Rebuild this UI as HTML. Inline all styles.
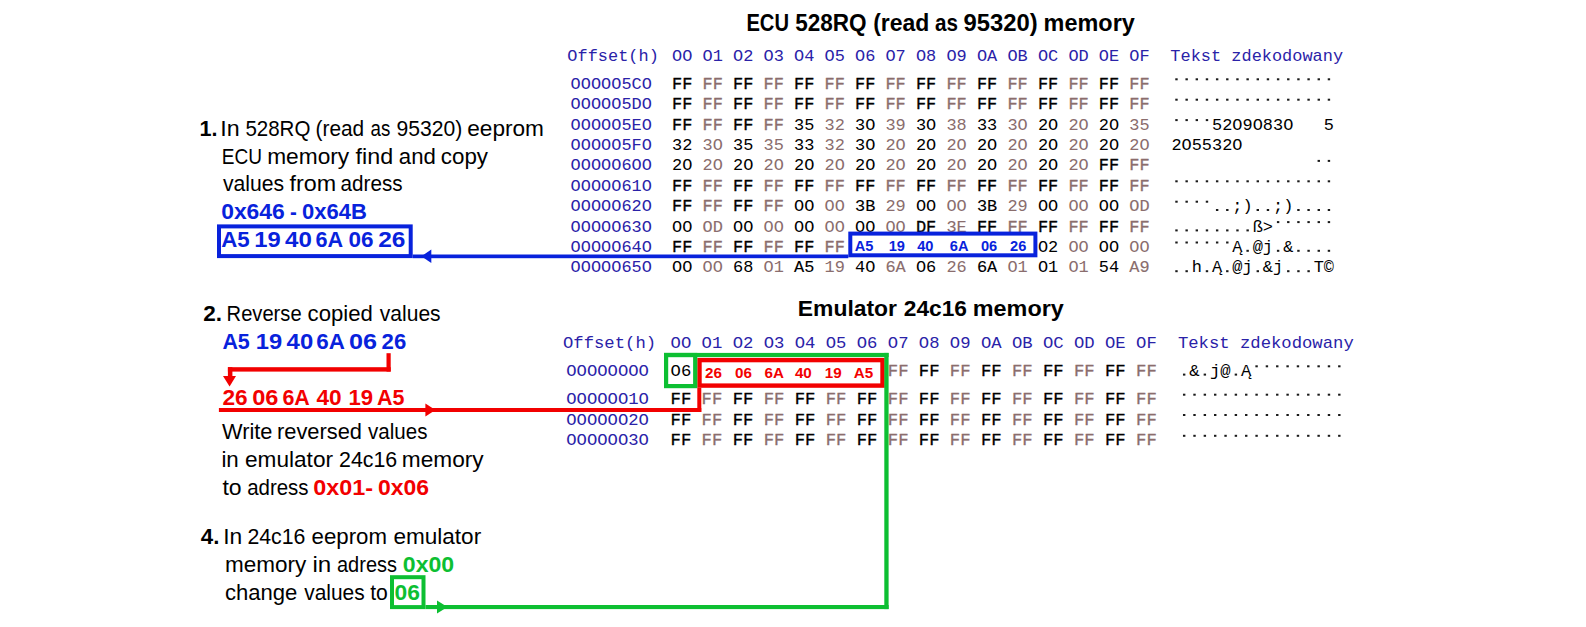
<!DOCTYPE html>
<html><head><meta charset="utf-8"><title>ECU memory</title>
<style>html,body{margin:0;padding:0;background:#fff;}body{width:1586px;height:627px;overflow:hidden;}svg{display:block;}</style>
</head><body>
<svg width="1586" height="627" viewBox="0 0 1586 627">
<rect width="1586" height="627" fill="#fff"/>
<text x="567.33" y="61.00" font-family="Liberation Mono" font-size="15.9" font-weight="normal" fill="#2a22a8" textLength="91.47" lengthAdjust="spacingAndGlyphs">Offset(h)</text>
<text x="672.03" y="61.00" font-family="Liberation Mono" font-size="15.9" font-weight="normal" fill="#2a22a8" textLength="20.33" lengthAdjust="spacingAndGlyphs">OO</text>
<text x="702.52" y="61.00" font-family="Liberation Mono" font-size="15.9" font-weight="normal" fill="#2a22a8" textLength="20.33" lengthAdjust="spacingAndGlyphs">O1</text>
<text x="733.01" y="61.00" font-family="Liberation Mono" font-size="15.9" font-weight="normal" fill="#2a22a8" textLength="20.33" lengthAdjust="spacingAndGlyphs">O2</text>
<text x="763.50" y="61.00" font-family="Liberation Mono" font-size="15.9" font-weight="normal" fill="#2a22a8" textLength="20.33" lengthAdjust="spacingAndGlyphs">O3</text>
<text x="793.99" y="61.00" font-family="Liberation Mono" font-size="15.9" font-weight="normal" fill="#2a22a8" textLength="20.33" lengthAdjust="spacingAndGlyphs">O4</text>
<text x="824.48" y="61.00" font-family="Liberation Mono" font-size="15.9" font-weight="normal" fill="#2a22a8" textLength="20.33" lengthAdjust="spacingAndGlyphs">O5</text>
<text x="854.97" y="61.00" font-family="Liberation Mono" font-size="15.9" font-weight="normal" fill="#2a22a8" textLength="20.33" lengthAdjust="spacingAndGlyphs">O6</text>
<text x="885.46" y="61.00" font-family="Liberation Mono" font-size="15.9" font-weight="normal" fill="#2a22a8" textLength="20.33" lengthAdjust="spacingAndGlyphs">O7</text>
<text x="915.95" y="61.00" font-family="Liberation Mono" font-size="15.9" font-weight="normal" fill="#2a22a8" textLength="20.33" lengthAdjust="spacingAndGlyphs">O8</text>
<text x="946.44" y="61.00" font-family="Liberation Mono" font-size="15.9" font-weight="normal" fill="#2a22a8" textLength="20.33" lengthAdjust="spacingAndGlyphs">O9</text>
<text x="976.93" y="61.00" font-family="Liberation Mono" font-size="15.9" font-weight="normal" fill="#2a22a8" textLength="20.33" lengthAdjust="spacingAndGlyphs">OA</text>
<text x="1007.42" y="61.00" font-family="Liberation Mono" font-size="15.9" font-weight="normal" fill="#2a22a8" textLength="20.33" lengthAdjust="spacingAndGlyphs">OB</text>
<text x="1037.91" y="61.00" font-family="Liberation Mono" font-size="15.9" font-weight="normal" fill="#2a22a8" textLength="20.33" lengthAdjust="spacingAndGlyphs">OC</text>
<text x="1068.40" y="61.00" font-family="Liberation Mono" font-size="15.9" font-weight="normal" fill="#2a22a8" textLength="20.33" lengthAdjust="spacingAndGlyphs">OD</text>
<text x="1098.89" y="61.00" font-family="Liberation Mono" font-size="15.9" font-weight="normal" fill="#2a22a8" textLength="20.33" lengthAdjust="spacingAndGlyphs">OE</text>
<text x="1129.38" y="61.00" font-family="Liberation Mono" font-size="15.9" font-weight="normal" fill="#2a22a8" textLength="20.33" lengthAdjust="spacingAndGlyphs">OF</text>
<text x="1170.33" y="61.00" font-family="Liberation Mono" font-size="15.9" font-weight="normal" fill="#2a22a8" textLength="172.78" lengthAdjust="spacingAndGlyphs">Tekst zdekodowany</text>
<text x="570.63" y="88.80" font-family="Liberation Mono" font-size="15.9" font-weight="normal" fill="#2a22a8" textLength="81.31" lengthAdjust="spacingAndGlyphs">OOOOO5CO</text>
<text x="672.03" y="88.80" font-family="Liberation Mono" font-size="15.9" font-weight="normal" fill="#000" textLength="20.33" lengthAdjust="spacingAndGlyphs" stroke="#000" stroke-width="0.3">FF</text>
<text x="702.52" y="88.80" font-family="Liberation Mono" font-size="15.9" font-weight="normal" fill="#8a6d6d" textLength="20.33" lengthAdjust="spacingAndGlyphs" stroke="#8a6d6d" stroke-width="0.3">FF</text>
<text x="733.01" y="88.80" font-family="Liberation Mono" font-size="15.9" font-weight="normal" fill="#000" textLength="20.33" lengthAdjust="spacingAndGlyphs" stroke="#000" stroke-width="0.3">FF</text>
<text x="763.50" y="88.80" font-family="Liberation Mono" font-size="15.9" font-weight="normal" fill="#8a6d6d" textLength="20.33" lengthAdjust="spacingAndGlyphs" stroke="#8a6d6d" stroke-width="0.3">FF</text>
<text x="793.99" y="88.80" font-family="Liberation Mono" font-size="15.9" font-weight="normal" fill="#000" textLength="20.33" lengthAdjust="spacingAndGlyphs" stroke="#000" stroke-width="0.3">FF</text>
<text x="824.48" y="88.80" font-family="Liberation Mono" font-size="15.9" font-weight="normal" fill="#8a6d6d" textLength="20.33" lengthAdjust="spacingAndGlyphs" stroke="#8a6d6d" stroke-width="0.3">FF</text>
<text x="854.97" y="88.80" font-family="Liberation Mono" font-size="15.9" font-weight="normal" fill="#000" textLength="20.33" lengthAdjust="spacingAndGlyphs" stroke="#000" stroke-width="0.3">FF</text>
<text x="885.46" y="88.80" font-family="Liberation Mono" font-size="15.9" font-weight="normal" fill="#8a6d6d" textLength="20.33" lengthAdjust="spacingAndGlyphs" stroke="#8a6d6d" stroke-width="0.3">FF</text>
<text x="915.95" y="88.80" font-family="Liberation Mono" font-size="15.9" font-weight="normal" fill="#000" textLength="20.33" lengthAdjust="spacingAndGlyphs" stroke="#000" stroke-width="0.3">FF</text>
<text x="946.44" y="88.80" font-family="Liberation Mono" font-size="15.9" font-weight="normal" fill="#8a6d6d" textLength="20.33" lengthAdjust="spacingAndGlyphs" stroke="#8a6d6d" stroke-width="0.3">FF</text>
<text x="976.93" y="88.80" font-family="Liberation Mono" font-size="15.9" font-weight="normal" fill="#000" textLength="20.33" lengthAdjust="spacingAndGlyphs" stroke="#000" stroke-width="0.3">FF</text>
<text x="1007.42" y="88.80" font-family="Liberation Mono" font-size="15.9" font-weight="normal" fill="#8a6d6d" textLength="20.33" lengthAdjust="spacingAndGlyphs" stroke="#8a6d6d" stroke-width="0.3">FF</text>
<text x="1037.91" y="88.80" font-family="Liberation Mono" font-size="15.9" font-weight="normal" fill="#000" textLength="20.33" lengthAdjust="spacingAndGlyphs" stroke="#000" stroke-width="0.3">FF</text>
<text x="1068.40" y="88.80" font-family="Liberation Mono" font-size="15.9" font-weight="normal" fill="#8a6d6d" textLength="20.33" lengthAdjust="spacingAndGlyphs" stroke="#8a6d6d" stroke-width="0.3">FF</text>
<text x="1098.89" y="88.80" font-family="Liberation Mono" font-size="15.9" font-weight="normal" fill="#000" textLength="20.33" lengthAdjust="spacingAndGlyphs" stroke="#000" stroke-width="0.3">FF</text>
<text x="1129.38" y="88.80" font-family="Liberation Mono" font-size="15.9" font-weight="normal" fill="#8a6d6d" textLength="20.33" lengthAdjust="spacingAndGlyphs" stroke="#8a6d6d" stroke-width="0.3">FF</text>
<rect x="1175.28" y="78.30" width="2.40" height="2.00" fill="#1a1a1a"/>
<rect x="1185.45" y="78.30" width="2.40" height="2.00" fill="#1a1a1a"/>
<rect x="1195.61" y="78.30" width="2.40" height="2.00" fill="#1a1a1a"/>
<rect x="1205.77" y="78.30" width="2.40" height="2.00" fill="#1a1a1a"/>
<rect x="1215.94" y="78.30" width="2.40" height="2.00" fill="#1a1a1a"/>
<rect x="1226.10" y="78.30" width="2.40" height="2.00" fill="#1a1a1a"/>
<rect x="1236.26" y="78.30" width="2.40" height="2.00" fill="#1a1a1a"/>
<rect x="1246.43" y="78.30" width="2.40" height="2.00" fill="#1a1a1a"/>
<rect x="1256.59" y="78.30" width="2.40" height="2.00" fill="#1a1a1a"/>
<rect x="1266.75" y="78.30" width="2.40" height="2.00" fill="#1a1a1a"/>
<rect x="1276.91" y="78.30" width="2.40" height="2.00" fill="#1a1a1a"/>
<rect x="1287.08" y="78.30" width="2.40" height="2.00" fill="#1a1a1a"/>
<rect x="1297.24" y="78.30" width="2.40" height="2.00" fill="#1a1a1a"/>
<rect x="1307.40" y="78.30" width="2.40" height="2.00" fill="#1a1a1a"/>
<rect x="1317.57" y="78.30" width="2.40" height="2.00" fill="#1a1a1a"/>
<rect x="1327.73" y="78.30" width="2.40" height="2.00" fill="#1a1a1a"/>
<text x="570.63" y="109.20" font-family="Liberation Mono" font-size="15.9" font-weight="normal" fill="#2a22a8" textLength="81.31" lengthAdjust="spacingAndGlyphs">OOOOO5DO</text>
<text x="672.03" y="109.20" font-family="Liberation Mono" font-size="15.9" font-weight="normal" fill="#000" textLength="20.33" lengthAdjust="spacingAndGlyphs" stroke="#000" stroke-width="0.3">FF</text>
<text x="702.52" y="109.20" font-family="Liberation Mono" font-size="15.9" font-weight="normal" fill="#8a6d6d" textLength="20.33" lengthAdjust="spacingAndGlyphs" stroke="#8a6d6d" stroke-width="0.3">FF</text>
<text x="733.01" y="109.20" font-family="Liberation Mono" font-size="15.9" font-weight="normal" fill="#000" textLength="20.33" lengthAdjust="spacingAndGlyphs" stroke="#000" stroke-width="0.3">FF</text>
<text x="763.50" y="109.20" font-family="Liberation Mono" font-size="15.9" font-weight="normal" fill="#8a6d6d" textLength="20.33" lengthAdjust="spacingAndGlyphs" stroke="#8a6d6d" stroke-width="0.3">FF</text>
<text x="793.99" y="109.20" font-family="Liberation Mono" font-size="15.9" font-weight="normal" fill="#000" textLength="20.33" lengthAdjust="spacingAndGlyphs" stroke="#000" stroke-width="0.3">FF</text>
<text x="824.48" y="109.20" font-family="Liberation Mono" font-size="15.9" font-weight="normal" fill="#8a6d6d" textLength="20.33" lengthAdjust="spacingAndGlyphs" stroke="#8a6d6d" stroke-width="0.3">FF</text>
<text x="854.97" y="109.20" font-family="Liberation Mono" font-size="15.9" font-weight="normal" fill="#000" textLength="20.33" lengthAdjust="spacingAndGlyphs" stroke="#000" stroke-width="0.3">FF</text>
<text x="885.46" y="109.20" font-family="Liberation Mono" font-size="15.9" font-weight="normal" fill="#8a6d6d" textLength="20.33" lengthAdjust="spacingAndGlyphs" stroke="#8a6d6d" stroke-width="0.3">FF</text>
<text x="915.95" y="109.20" font-family="Liberation Mono" font-size="15.9" font-weight="normal" fill="#000" textLength="20.33" lengthAdjust="spacingAndGlyphs" stroke="#000" stroke-width="0.3">FF</text>
<text x="946.44" y="109.20" font-family="Liberation Mono" font-size="15.9" font-weight="normal" fill="#8a6d6d" textLength="20.33" lengthAdjust="spacingAndGlyphs" stroke="#8a6d6d" stroke-width="0.3">FF</text>
<text x="976.93" y="109.20" font-family="Liberation Mono" font-size="15.9" font-weight="normal" fill="#000" textLength="20.33" lengthAdjust="spacingAndGlyphs" stroke="#000" stroke-width="0.3">FF</text>
<text x="1007.42" y="109.20" font-family="Liberation Mono" font-size="15.9" font-weight="normal" fill="#8a6d6d" textLength="20.33" lengthAdjust="spacingAndGlyphs" stroke="#8a6d6d" stroke-width="0.3">FF</text>
<text x="1037.91" y="109.20" font-family="Liberation Mono" font-size="15.9" font-weight="normal" fill="#000" textLength="20.33" lengthAdjust="spacingAndGlyphs" stroke="#000" stroke-width="0.3">FF</text>
<text x="1068.40" y="109.20" font-family="Liberation Mono" font-size="15.9" font-weight="normal" fill="#8a6d6d" textLength="20.33" lengthAdjust="spacingAndGlyphs" stroke="#8a6d6d" stroke-width="0.3">FF</text>
<text x="1098.89" y="109.20" font-family="Liberation Mono" font-size="15.9" font-weight="normal" fill="#000" textLength="20.33" lengthAdjust="spacingAndGlyphs" stroke="#000" stroke-width="0.3">FF</text>
<text x="1129.38" y="109.20" font-family="Liberation Mono" font-size="15.9" font-weight="normal" fill="#8a6d6d" textLength="20.33" lengthAdjust="spacingAndGlyphs" stroke="#8a6d6d" stroke-width="0.3">FF</text>
<rect x="1175.28" y="98.70" width="2.40" height="2.00" fill="#1a1a1a"/>
<rect x="1185.45" y="98.70" width="2.40" height="2.00" fill="#1a1a1a"/>
<rect x="1195.61" y="98.70" width="2.40" height="2.00" fill="#1a1a1a"/>
<rect x="1205.77" y="98.70" width="2.40" height="2.00" fill="#1a1a1a"/>
<rect x="1215.94" y="98.70" width="2.40" height="2.00" fill="#1a1a1a"/>
<rect x="1226.10" y="98.70" width="2.40" height="2.00" fill="#1a1a1a"/>
<rect x="1236.26" y="98.70" width="2.40" height="2.00" fill="#1a1a1a"/>
<rect x="1246.43" y="98.70" width="2.40" height="2.00" fill="#1a1a1a"/>
<rect x="1256.59" y="98.70" width="2.40" height="2.00" fill="#1a1a1a"/>
<rect x="1266.75" y="98.70" width="2.40" height="2.00" fill="#1a1a1a"/>
<rect x="1276.91" y="98.70" width="2.40" height="2.00" fill="#1a1a1a"/>
<rect x="1287.08" y="98.70" width="2.40" height="2.00" fill="#1a1a1a"/>
<rect x="1297.24" y="98.70" width="2.40" height="2.00" fill="#1a1a1a"/>
<rect x="1307.40" y="98.70" width="2.40" height="2.00" fill="#1a1a1a"/>
<rect x="1317.57" y="98.70" width="2.40" height="2.00" fill="#1a1a1a"/>
<rect x="1327.73" y="98.70" width="2.40" height="2.00" fill="#1a1a1a"/>
<text x="570.63" y="129.60" font-family="Liberation Mono" font-size="15.9" font-weight="normal" fill="#2a22a8" textLength="81.31" lengthAdjust="spacingAndGlyphs">OOOOO5EO</text>
<text x="672.03" y="129.60" font-family="Liberation Mono" font-size="15.9" font-weight="normal" fill="#000" textLength="20.33" lengthAdjust="spacingAndGlyphs" stroke="#000" stroke-width="0.3">FF</text>
<text x="702.52" y="129.60" font-family="Liberation Mono" font-size="15.9" font-weight="normal" fill="#8a6d6d" textLength="20.33" lengthAdjust="spacingAndGlyphs" stroke="#8a6d6d" stroke-width="0.3">FF</text>
<text x="733.01" y="129.60" font-family="Liberation Mono" font-size="15.9" font-weight="normal" fill="#000" textLength="20.33" lengthAdjust="spacingAndGlyphs" stroke="#000" stroke-width="0.3">FF</text>
<text x="763.50" y="129.60" font-family="Liberation Mono" font-size="15.9" font-weight="normal" fill="#8a6d6d" textLength="20.33" lengthAdjust="spacingAndGlyphs" stroke="#8a6d6d" stroke-width="0.3">FF</text>
<text x="793.99" y="129.60" font-family="Liberation Mono" font-size="15.9" font-weight="normal" fill="#000" textLength="20.33" lengthAdjust="spacingAndGlyphs">35</text>
<text x="824.48" y="129.60" font-family="Liberation Mono" font-size="15.9" font-weight="normal" fill="#8a6d6d" textLength="20.33" lengthAdjust="spacingAndGlyphs">32</text>
<text x="854.97" y="129.60" font-family="Liberation Mono" font-size="15.9" font-weight="normal" fill="#000" textLength="20.33" lengthAdjust="spacingAndGlyphs">3O</text>
<text x="885.46" y="129.60" font-family="Liberation Mono" font-size="15.9" font-weight="normal" fill="#8a6d6d" textLength="20.33" lengthAdjust="spacingAndGlyphs">39</text>
<text x="915.95" y="129.60" font-family="Liberation Mono" font-size="15.9" font-weight="normal" fill="#000" textLength="20.33" lengthAdjust="spacingAndGlyphs">3O</text>
<text x="946.44" y="129.60" font-family="Liberation Mono" font-size="15.9" font-weight="normal" fill="#8a6d6d" textLength="20.33" lengthAdjust="spacingAndGlyphs">38</text>
<text x="976.93" y="129.60" font-family="Liberation Mono" font-size="15.9" font-weight="normal" fill="#000" textLength="20.33" lengthAdjust="spacingAndGlyphs">33</text>
<text x="1007.42" y="129.60" font-family="Liberation Mono" font-size="15.9" font-weight="normal" fill="#8a6d6d" textLength="20.33" lengthAdjust="spacingAndGlyphs">3O</text>
<text x="1037.91" y="129.60" font-family="Liberation Mono" font-size="15.9" font-weight="normal" fill="#000" textLength="20.33" lengthAdjust="spacingAndGlyphs">2O</text>
<text x="1068.40" y="129.60" font-family="Liberation Mono" font-size="15.9" font-weight="normal" fill="#8a6d6d" textLength="20.33" lengthAdjust="spacingAndGlyphs">2O</text>
<text x="1098.89" y="129.60" font-family="Liberation Mono" font-size="15.9" font-weight="normal" fill="#000" textLength="20.33" lengthAdjust="spacingAndGlyphs">2O</text>
<text x="1129.38" y="129.60" font-family="Liberation Mono" font-size="15.9" font-weight="normal" fill="#8a6d6d" textLength="20.33" lengthAdjust="spacingAndGlyphs">35</text>
<rect x="1175.28" y="119.10" width="2.40" height="2.00" fill="#1a1a1a"/>
<rect x="1185.45" y="119.10" width="2.40" height="2.00" fill="#1a1a1a"/>
<rect x="1195.61" y="119.10" width="2.40" height="2.00" fill="#1a1a1a"/>
<rect x="1205.77" y="119.10" width="2.40" height="2.00" fill="#1a1a1a"/>
<text x="1212.05" y="129.60" font-family="Liberation Mono" font-size="15.9" font-weight="normal" fill="#000" textLength="10.16" lengthAdjust="spacingAndGlyphs">5</text>
<text x="1222.22" y="129.60" font-family="Liberation Mono" font-size="15.9" font-weight="normal" fill="#000" textLength="10.16" lengthAdjust="spacingAndGlyphs">2</text>
<text x="1232.38" y="129.60" font-family="Liberation Mono" font-size="15.9" font-weight="normal" fill="#000" textLength="10.16" lengthAdjust="spacingAndGlyphs">O</text>
<text x="1242.54" y="129.60" font-family="Liberation Mono" font-size="15.9" font-weight="normal" fill="#000" textLength="10.16" lengthAdjust="spacingAndGlyphs">9</text>
<text x="1252.71" y="129.60" font-family="Liberation Mono" font-size="15.9" font-weight="normal" fill="#000" textLength="10.16" lengthAdjust="spacingAndGlyphs">O</text>
<text x="1262.87" y="129.60" font-family="Liberation Mono" font-size="15.9" font-weight="normal" fill="#000" textLength="10.16" lengthAdjust="spacingAndGlyphs">8</text>
<text x="1273.03" y="129.60" font-family="Liberation Mono" font-size="15.9" font-weight="normal" fill="#000" textLength="10.16" lengthAdjust="spacingAndGlyphs">3</text>
<text x="1283.20" y="129.60" font-family="Liberation Mono" font-size="15.9" font-weight="normal" fill="#000" textLength="10.16" lengthAdjust="spacingAndGlyphs">O</text>
<text x="1323.85" y="129.60" font-family="Liberation Mono" font-size="15.9" font-weight="normal" fill="#000" textLength="10.16" lengthAdjust="spacingAndGlyphs">5</text>
<text x="570.63" y="150.00" font-family="Liberation Mono" font-size="15.9" font-weight="normal" fill="#2a22a8" textLength="81.31" lengthAdjust="spacingAndGlyphs">OOOOO5FO</text>
<text x="672.03" y="150.00" font-family="Liberation Mono" font-size="15.9" font-weight="normal" fill="#000" textLength="20.33" lengthAdjust="spacingAndGlyphs">32</text>
<text x="702.52" y="150.00" font-family="Liberation Mono" font-size="15.9" font-weight="normal" fill="#8a6d6d" textLength="20.33" lengthAdjust="spacingAndGlyphs">3O</text>
<text x="733.01" y="150.00" font-family="Liberation Mono" font-size="15.9" font-weight="normal" fill="#000" textLength="20.33" lengthAdjust="spacingAndGlyphs">35</text>
<text x="763.50" y="150.00" font-family="Liberation Mono" font-size="15.9" font-weight="normal" fill="#8a6d6d" textLength="20.33" lengthAdjust="spacingAndGlyphs">35</text>
<text x="793.99" y="150.00" font-family="Liberation Mono" font-size="15.9" font-weight="normal" fill="#000" textLength="20.33" lengthAdjust="spacingAndGlyphs">33</text>
<text x="824.48" y="150.00" font-family="Liberation Mono" font-size="15.9" font-weight="normal" fill="#8a6d6d" textLength="20.33" lengthAdjust="spacingAndGlyphs">32</text>
<text x="854.97" y="150.00" font-family="Liberation Mono" font-size="15.9" font-weight="normal" fill="#000" textLength="20.33" lengthAdjust="spacingAndGlyphs">3O</text>
<text x="885.46" y="150.00" font-family="Liberation Mono" font-size="15.9" font-weight="normal" fill="#8a6d6d" textLength="20.33" lengthAdjust="spacingAndGlyphs">2O</text>
<text x="915.95" y="150.00" font-family="Liberation Mono" font-size="15.9" font-weight="normal" fill="#000" textLength="20.33" lengthAdjust="spacingAndGlyphs">2O</text>
<text x="946.44" y="150.00" font-family="Liberation Mono" font-size="15.9" font-weight="normal" fill="#8a6d6d" textLength="20.33" lengthAdjust="spacingAndGlyphs">2O</text>
<text x="976.93" y="150.00" font-family="Liberation Mono" font-size="15.9" font-weight="normal" fill="#000" textLength="20.33" lengthAdjust="spacingAndGlyphs">2O</text>
<text x="1007.42" y="150.00" font-family="Liberation Mono" font-size="15.9" font-weight="normal" fill="#8a6d6d" textLength="20.33" lengthAdjust="spacingAndGlyphs">2O</text>
<text x="1037.91" y="150.00" font-family="Liberation Mono" font-size="15.9" font-weight="normal" fill="#000" textLength="20.33" lengthAdjust="spacingAndGlyphs">2O</text>
<text x="1068.40" y="150.00" font-family="Liberation Mono" font-size="15.9" font-weight="normal" fill="#8a6d6d" textLength="20.33" lengthAdjust="spacingAndGlyphs">2O</text>
<text x="1098.89" y="150.00" font-family="Liberation Mono" font-size="15.9" font-weight="normal" fill="#000" textLength="20.33" lengthAdjust="spacingAndGlyphs">2O</text>
<text x="1129.38" y="150.00" font-family="Liberation Mono" font-size="15.9" font-weight="normal" fill="#8a6d6d" textLength="20.33" lengthAdjust="spacingAndGlyphs">2O</text>
<text x="1171.40" y="150.00" font-family="Liberation Mono" font-size="15.9" font-weight="normal" fill="#000" textLength="10.16" lengthAdjust="spacingAndGlyphs">2</text>
<text x="1181.56" y="150.00" font-family="Liberation Mono" font-size="15.9" font-weight="normal" fill="#000" textLength="10.16" lengthAdjust="spacingAndGlyphs">O</text>
<text x="1191.73" y="150.00" font-family="Liberation Mono" font-size="15.9" font-weight="normal" fill="#000" textLength="10.16" lengthAdjust="spacingAndGlyphs">5</text>
<text x="1201.89" y="150.00" font-family="Liberation Mono" font-size="15.9" font-weight="normal" fill="#000" textLength="10.16" lengthAdjust="spacingAndGlyphs">5</text>
<text x="1212.05" y="150.00" font-family="Liberation Mono" font-size="15.9" font-weight="normal" fill="#000" textLength="10.16" lengthAdjust="spacingAndGlyphs">3</text>
<text x="1222.22" y="150.00" font-family="Liberation Mono" font-size="15.9" font-weight="normal" fill="#000" textLength="10.16" lengthAdjust="spacingAndGlyphs">2</text>
<text x="1232.38" y="150.00" font-family="Liberation Mono" font-size="15.9" font-weight="normal" fill="#000" textLength="10.16" lengthAdjust="spacingAndGlyphs">O</text>
<text x="570.63" y="170.40" font-family="Liberation Mono" font-size="15.9" font-weight="normal" fill="#2a22a8" textLength="81.31" lengthAdjust="spacingAndGlyphs">OOOOO6OO</text>
<text x="672.03" y="170.40" font-family="Liberation Mono" font-size="15.9" font-weight="normal" fill="#000" textLength="20.33" lengthAdjust="spacingAndGlyphs">2O</text>
<text x="702.52" y="170.40" font-family="Liberation Mono" font-size="15.9" font-weight="normal" fill="#8a6d6d" textLength="20.33" lengthAdjust="spacingAndGlyphs">2O</text>
<text x="733.01" y="170.40" font-family="Liberation Mono" font-size="15.9" font-weight="normal" fill="#000" textLength="20.33" lengthAdjust="spacingAndGlyphs">2O</text>
<text x="763.50" y="170.40" font-family="Liberation Mono" font-size="15.9" font-weight="normal" fill="#8a6d6d" textLength="20.33" lengthAdjust="spacingAndGlyphs">2O</text>
<text x="793.99" y="170.40" font-family="Liberation Mono" font-size="15.9" font-weight="normal" fill="#000" textLength="20.33" lengthAdjust="spacingAndGlyphs">2O</text>
<text x="824.48" y="170.40" font-family="Liberation Mono" font-size="15.9" font-weight="normal" fill="#8a6d6d" textLength="20.33" lengthAdjust="spacingAndGlyphs">2O</text>
<text x="854.97" y="170.40" font-family="Liberation Mono" font-size="15.9" font-weight="normal" fill="#000" textLength="20.33" lengthAdjust="spacingAndGlyphs">2O</text>
<text x="885.46" y="170.40" font-family="Liberation Mono" font-size="15.9" font-weight="normal" fill="#8a6d6d" textLength="20.33" lengthAdjust="spacingAndGlyphs">2O</text>
<text x="915.95" y="170.40" font-family="Liberation Mono" font-size="15.9" font-weight="normal" fill="#000" textLength="20.33" lengthAdjust="spacingAndGlyphs">2O</text>
<text x="946.44" y="170.40" font-family="Liberation Mono" font-size="15.9" font-weight="normal" fill="#8a6d6d" textLength="20.33" lengthAdjust="spacingAndGlyphs">2O</text>
<text x="976.93" y="170.40" font-family="Liberation Mono" font-size="15.9" font-weight="normal" fill="#000" textLength="20.33" lengthAdjust="spacingAndGlyphs">2O</text>
<text x="1007.42" y="170.40" font-family="Liberation Mono" font-size="15.9" font-weight="normal" fill="#8a6d6d" textLength="20.33" lengthAdjust="spacingAndGlyphs">2O</text>
<text x="1037.91" y="170.40" font-family="Liberation Mono" font-size="15.9" font-weight="normal" fill="#000" textLength="20.33" lengthAdjust="spacingAndGlyphs">2O</text>
<text x="1068.40" y="170.40" font-family="Liberation Mono" font-size="15.9" font-weight="normal" fill="#8a6d6d" textLength="20.33" lengthAdjust="spacingAndGlyphs">2O</text>
<text x="1098.89" y="170.40" font-family="Liberation Mono" font-size="15.9" font-weight="normal" fill="#000" textLength="20.33" lengthAdjust="spacingAndGlyphs" stroke="#000" stroke-width="0.3">FF</text>
<text x="1129.38" y="170.40" font-family="Liberation Mono" font-size="15.9" font-weight="normal" fill="#8a6d6d" textLength="20.33" lengthAdjust="spacingAndGlyphs" stroke="#8a6d6d" stroke-width="0.3">FF</text>
<rect x="1317.57" y="159.90" width="2.40" height="2.00" fill="#1a1a1a"/>
<rect x="1327.73" y="159.90" width="2.40" height="2.00" fill="#1a1a1a"/>
<text x="570.63" y="190.80" font-family="Liberation Mono" font-size="15.9" font-weight="normal" fill="#2a22a8" textLength="81.31" lengthAdjust="spacingAndGlyphs">OOOOO61O</text>
<text x="672.03" y="190.80" font-family="Liberation Mono" font-size="15.9" font-weight="normal" fill="#000" textLength="20.33" lengthAdjust="spacingAndGlyphs" stroke="#000" stroke-width="0.3">FF</text>
<text x="702.52" y="190.80" font-family="Liberation Mono" font-size="15.9" font-weight="normal" fill="#8a6d6d" textLength="20.33" lengthAdjust="spacingAndGlyphs" stroke="#8a6d6d" stroke-width="0.3">FF</text>
<text x="733.01" y="190.80" font-family="Liberation Mono" font-size="15.9" font-weight="normal" fill="#000" textLength="20.33" lengthAdjust="spacingAndGlyphs" stroke="#000" stroke-width="0.3">FF</text>
<text x="763.50" y="190.80" font-family="Liberation Mono" font-size="15.9" font-weight="normal" fill="#8a6d6d" textLength="20.33" lengthAdjust="spacingAndGlyphs" stroke="#8a6d6d" stroke-width="0.3">FF</text>
<text x="793.99" y="190.80" font-family="Liberation Mono" font-size="15.9" font-weight="normal" fill="#000" textLength="20.33" lengthAdjust="spacingAndGlyphs" stroke="#000" stroke-width="0.3">FF</text>
<text x="824.48" y="190.80" font-family="Liberation Mono" font-size="15.9" font-weight="normal" fill="#8a6d6d" textLength="20.33" lengthAdjust="spacingAndGlyphs" stroke="#8a6d6d" stroke-width="0.3">FF</text>
<text x="854.97" y="190.80" font-family="Liberation Mono" font-size="15.9" font-weight="normal" fill="#000" textLength="20.33" lengthAdjust="spacingAndGlyphs" stroke="#000" stroke-width="0.3">FF</text>
<text x="885.46" y="190.80" font-family="Liberation Mono" font-size="15.9" font-weight="normal" fill="#8a6d6d" textLength="20.33" lengthAdjust="spacingAndGlyphs" stroke="#8a6d6d" stroke-width="0.3">FF</text>
<text x="915.95" y="190.80" font-family="Liberation Mono" font-size="15.9" font-weight="normal" fill="#000" textLength="20.33" lengthAdjust="spacingAndGlyphs" stroke="#000" stroke-width="0.3">FF</text>
<text x="946.44" y="190.80" font-family="Liberation Mono" font-size="15.9" font-weight="normal" fill="#8a6d6d" textLength="20.33" lengthAdjust="spacingAndGlyphs" stroke="#8a6d6d" stroke-width="0.3">FF</text>
<text x="976.93" y="190.80" font-family="Liberation Mono" font-size="15.9" font-weight="normal" fill="#000" textLength="20.33" lengthAdjust="spacingAndGlyphs" stroke="#000" stroke-width="0.3">FF</text>
<text x="1007.42" y="190.80" font-family="Liberation Mono" font-size="15.9" font-weight="normal" fill="#8a6d6d" textLength="20.33" lengthAdjust="spacingAndGlyphs" stroke="#8a6d6d" stroke-width="0.3">FF</text>
<text x="1037.91" y="190.80" font-family="Liberation Mono" font-size="15.9" font-weight="normal" fill="#000" textLength="20.33" lengthAdjust="spacingAndGlyphs" stroke="#000" stroke-width="0.3">FF</text>
<text x="1068.40" y="190.80" font-family="Liberation Mono" font-size="15.9" font-weight="normal" fill="#8a6d6d" textLength="20.33" lengthAdjust="spacingAndGlyphs" stroke="#8a6d6d" stroke-width="0.3">FF</text>
<text x="1098.89" y="190.80" font-family="Liberation Mono" font-size="15.9" font-weight="normal" fill="#000" textLength="20.33" lengthAdjust="spacingAndGlyphs" stroke="#000" stroke-width="0.3">FF</text>
<text x="1129.38" y="190.80" font-family="Liberation Mono" font-size="15.9" font-weight="normal" fill="#8a6d6d" textLength="20.33" lengthAdjust="spacingAndGlyphs" stroke="#8a6d6d" stroke-width="0.3">FF</text>
<rect x="1175.28" y="180.30" width="2.40" height="2.00" fill="#1a1a1a"/>
<rect x="1185.45" y="180.30" width="2.40" height="2.00" fill="#1a1a1a"/>
<rect x="1195.61" y="180.30" width="2.40" height="2.00" fill="#1a1a1a"/>
<rect x="1205.77" y="180.30" width="2.40" height="2.00" fill="#1a1a1a"/>
<rect x="1215.94" y="180.30" width="2.40" height="2.00" fill="#1a1a1a"/>
<rect x="1226.10" y="180.30" width="2.40" height="2.00" fill="#1a1a1a"/>
<rect x="1236.26" y="180.30" width="2.40" height="2.00" fill="#1a1a1a"/>
<rect x="1246.43" y="180.30" width="2.40" height="2.00" fill="#1a1a1a"/>
<rect x="1256.59" y="180.30" width="2.40" height="2.00" fill="#1a1a1a"/>
<rect x="1266.75" y="180.30" width="2.40" height="2.00" fill="#1a1a1a"/>
<rect x="1276.91" y="180.30" width="2.40" height="2.00" fill="#1a1a1a"/>
<rect x="1287.08" y="180.30" width="2.40" height="2.00" fill="#1a1a1a"/>
<rect x="1297.24" y="180.30" width="2.40" height="2.00" fill="#1a1a1a"/>
<rect x="1307.40" y="180.30" width="2.40" height="2.00" fill="#1a1a1a"/>
<rect x="1317.57" y="180.30" width="2.40" height="2.00" fill="#1a1a1a"/>
<rect x="1327.73" y="180.30" width="2.40" height="2.00" fill="#1a1a1a"/>
<text x="570.63" y="211.20" font-family="Liberation Mono" font-size="15.9" font-weight="normal" fill="#2a22a8" textLength="81.31" lengthAdjust="spacingAndGlyphs">OOOOO62O</text>
<text x="672.03" y="211.20" font-family="Liberation Mono" font-size="15.9" font-weight="normal" fill="#000" textLength="20.33" lengthAdjust="spacingAndGlyphs" stroke="#000" stroke-width="0.3">FF</text>
<text x="702.52" y="211.20" font-family="Liberation Mono" font-size="15.9" font-weight="normal" fill="#8a6d6d" textLength="20.33" lengthAdjust="spacingAndGlyphs" stroke="#8a6d6d" stroke-width="0.3">FF</text>
<text x="733.01" y="211.20" font-family="Liberation Mono" font-size="15.9" font-weight="normal" fill="#000" textLength="20.33" lengthAdjust="spacingAndGlyphs" stroke="#000" stroke-width="0.3">FF</text>
<text x="763.50" y="211.20" font-family="Liberation Mono" font-size="15.9" font-weight="normal" fill="#8a6d6d" textLength="20.33" lengthAdjust="spacingAndGlyphs" stroke="#8a6d6d" stroke-width="0.3">FF</text>
<text x="793.99" y="211.20" font-family="Liberation Mono" font-size="15.9" font-weight="normal" fill="#000" textLength="20.33" lengthAdjust="spacingAndGlyphs">OO</text>
<text x="824.48" y="211.20" font-family="Liberation Mono" font-size="15.9" font-weight="normal" fill="#8a6d6d" textLength="20.33" lengthAdjust="spacingAndGlyphs">OO</text>
<text x="854.97" y="211.20" font-family="Liberation Mono" font-size="15.9" font-weight="normal" fill="#000" textLength="20.33" lengthAdjust="spacingAndGlyphs" stroke="#000" stroke-width="0.12">3B</text>
<text x="885.46" y="211.20" font-family="Liberation Mono" font-size="15.9" font-weight="normal" fill="#8a6d6d" textLength="20.33" lengthAdjust="spacingAndGlyphs">29</text>
<text x="915.95" y="211.20" font-family="Liberation Mono" font-size="15.9" font-weight="normal" fill="#000" textLength="20.33" lengthAdjust="spacingAndGlyphs">OO</text>
<text x="946.44" y="211.20" font-family="Liberation Mono" font-size="15.9" font-weight="normal" fill="#8a6d6d" textLength="20.33" lengthAdjust="spacingAndGlyphs">OO</text>
<text x="976.93" y="211.20" font-family="Liberation Mono" font-size="15.9" font-weight="normal" fill="#000" textLength="20.33" lengthAdjust="spacingAndGlyphs" stroke="#000" stroke-width="0.12">3B</text>
<text x="1007.42" y="211.20" font-family="Liberation Mono" font-size="15.9" font-weight="normal" fill="#8a6d6d" textLength="20.33" lengthAdjust="spacingAndGlyphs">29</text>
<text x="1037.91" y="211.20" font-family="Liberation Mono" font-size="15.9" font-weight="normal" fill="#000" textLength="20.33" lengthAdjust="spacingAndGlyphs">OO</text>
<text x="1068.40" y="211.20" font-family="Liberation Mono" font-size="15.9" font-weight="normal" fill="#8a6d6d" textLength="20.33" lengthAdjust="spacingAndGlyphs">OO</text>
<text x="1098.89" y="211.20" font-family="Liberation Mono" font-size="15.9" font-weight="normal" fill="#000" textLength="20.33" lengthAdjust="spacingAndGlyphs">OO</text>
<text x="1129.38" y="211.20" font-family="Liberation Mono" font-size="15.9" font-weight="normal" fill="#8a6d6d" textLength="20.33" lengthAdjust="spacingAndGlyphs" stroke="#8a6d6d" stroke-width="0.12">OD</text>
<rect x="1175.28" y="200.70" width="2.40" height="2.00" fill="#1a1a1a"/>
<rect x="1185.45" y="200.70" width="2.40" height="2.00" fill="#1a1a1a"/>
<rect x="1195.61" y="200.70" width="2.40" height="2.00" fill="#1a1a1a"/>
<rect x="1205.77" y="200.70" width="2.40" height="2.00" fill="#1a1a1a"/>
<rect x="1215.94" y="209.00" width="2.40" height="2.00" fill="#1a1a1a"/>
<rect x="1226.10" y="209.00" width="2.40" height="2.00" fill="#1a1a1a"/>
<text x="1232.38" y="211.20" font-family="Liberation Mono" font-size="15.9" font-weight="normal" fill="#000" textLength="10.16" lengthAdjust="spacingAndGlyphs">;</text>
<text x="1242.54" y="211.20" font-family="Liberation Mono" font-size="15.9" font-weight="normal" fill="#000" textLength="10.16" lengthAdjust="spacingAndGlyphs">)</text>
<rect x="1256.59" y="209.00" width="2.40" height="2.00" fill="#1a1a1a"/>
<rect x="1266.75" y="209.00" width="2.40" height="2.00" fill="#1a1a1a"/>
<text x="1273.03" y="211.20" font-family="Liberation Mono" font-size="15.9" font-weight="normal" fill="#000" textLength="10.16" lengthAdjust="spacingAndGlyphs">;</text>
<text x="1283.20" y="211.20" font-family="Liberation Mono" font-size="15.9" font-weight="normal" fill="#000" textLength="10.16" lengthAdjust="spacingAndGlyphs">)</text>
<rect x="1297.24" y="209.00" width="2.40" height="2.00" fill="#1a1a1a"/>
<rect x="1307.40" y="209.00" width="2.40" height="2.00" fill="#1a1a1a"/>
<rect x="1317.57" y="209.00" width="2.40" height="2.00" fill="#1a1a1a"/>
<rect x="1327.73" y="209.00" width="2.40" height="2.00" fill="#1a1a1a"/>
<text x="570.63" y="231.60" font-family="Liberation Mono" font-size="15.9" font-weight="normal" fill="#2a22a8" textLength="81.31" lengthAdjust="spacingAndGlyphs">OOOOO63O</text>
<text x="672.03" y="231.60" font-family="Liberation Mono" font-size="15.9" font-weight="normal" fill="#000" textLength="20.33" lengthAdjust="spacingAndGlyphs">OO</text>
<text x="702.52" y="231.60" font-family="Liberation Mono" font-size="15.9" font-weight="normal" fill="#8a6d6d" textLength="20.33" lengthAdjust="spacingAndGlyphs" stroke="#8a6d6d" stroke-width="0.12">OD</text>
<text x="733.01" y="231.60" font-family="Liberation Mono" font-size="15.9" font-weight="normal" fill="#000" textLength="20.33" lengthAdjust="spacingAndGlyphs">OO</text>
<text x="763.50" y="231.60" font-family="Liberation Mono" font-size="15.9" font-weight="normal" fill="#8a6d6d" textLength="20.33" lengthAdjust="spacingAndGlyphs">OO</text>
<text x="793.99" y="231.60" font-family="Liberation Mono" font-size="15.9" font-weight="normal" fill="#000" textLength="20.33" lengthAdjust="spacingAndGlyphs">OO</text>
<text x="824.48" y="231.60" font-family="Liberation Mono" font-size="15.9" font-weight="normal" fill="#8a6d6d" textLength="20.33" lengthAdjust="spacingAndGlyphs">OO</text>
<text x="854.97" y="231.60" font-family="Liberation Mono" font-size="15.9" font-weight="normal" fill="#000" textLength="20.33" lengthAdjust="spacingAndGlyphs">OO</text>
<text x="885.46" y="231.60" font-family="Liberation Mono" font-size="15.9" font-weight="normal" fill="#8a6d6d" textLength="20.33" lengthAdjust="spacingAndGlyphs">OO</text>
<text x="915.95" y="231.60" font-family="Liberation Mono" font-size="15.9" font-weight="normal" fill="#000" textLength="20.33" lengthAdjust="spacingAndGlyphs" stroke="#000" stroke-width="0.3">DF</text>
<text x="946.44" y="231.60" font-family="Liberation Mono" font-size="15.9" font-weight="normal" fill="#8a6d6d" textLength="20.33" lengthAdjust="spacingAndGlyphs" stroke="#8a6d6d" stroke-width="0.12">3E</text>
<text x="976.93" y="231.60" font-family="Liberation Mono" font-size="15.9" font-weight="normal" fill="#000" textLength="20.33" lengthAdjust="spacingAndGlyphs" stroke="#000" stroke-width="0.3">FF</text>
<text x="1007.42" y="231.60" font-family="Liberation Mono" font-size="15.9" font-weight="normal" fill="#8a6d6d" textLength="20.33" lengthAdjust="spacingAndGlyphs" stroke="#8a6d6d" stroke-width="0.3">FF</text>
<text x="1037.91" y="231.60" font-family="Liberation Mono" font-size="15.9" font-weight="normal" fill="#000" textLength="20.33" lengthAdjust="spacingAndGlyphs" stroke="#000" stroke-width="0.3">FF</text>
<text x="1068.40" y="231.60" font-family="Liberation Mono" font-size="15.9" font-weight="normal" fill="#8a6d6d" textLength="20.33" lengthAdjust="spacingAndGlyphs" stroke="#8a6d6d" stroke-width="0.3">FF</text>
<text x="1098.89" y="231.60" font-family="Liberation Mono" font-size="15.9" font-weight="normal" fill="#000" textLength="20.33" lengthAdjust="spacingAndGlyphs" stroke="#000" stroke-width="0.3">FF</text>
<text x="1129.38" y="231.60" font-family="Liberation Mono" font-size="15.9" font-weight="normal" fill="#8a6d6d" textLength="20.33" lengthAdjust="spacingAndGlyphs" stroke="#8a6d6d" stroke-width="0.3">FF</text>
<rect x="1175.28" y="229.40" width="2.40" height="2.00" fill="#1a1a1a"/>
<rect x="1185.45" y="229.40" width="2.40" height="2.00" fill="#1a1a1a"/>
<rect x="1195.61" y="229.40" width="2.40" height="2.00" fill="#1a1a1a"/>
<rect x="1205.77" y="229.40" width="2.40" height="2.00" fill="#1a1a1a"/>
<rect x="1215.94" y="229.40" width="2.40" height="2.00" fill="#1a1a1a"/>
<rect x="1226.10" y="229.40" width="2.40" height="2.00" fill="#1a1a1a"/>
<rect x="1236.26" y="229.40" width="2.40" height="2.00" fill="#1a1a1a"/>
<rect x="1246.43" y="229.40" width="2.40" height="2.00" fill="#1a1a1a"/>
<text x="1252.71" y="231.60" font-family="Liberation Mono" font-size="15.9" font-weight="normal" fill="#000" textLength="10.16" lengthAdjust="spacingAndGlyphs">ß</text>
<text x="1262.87" y="231.60" font-family="Liberation Mono" font-size="15.9" font-weight="normal" fill="#000" textLength="10.16" lengthAdjust="spacingAndGlyphs">&gt;</text>
<rect x="1276.91" y="221.10" width="2.40" height="2.00" fill="#1a1a1a"/>
<rect x="1287.08" y="221.10" width="2.40" height="2.00" fill="#1a1a1a"/>
<rect x="1297.24" y="221.10" width="2.40" height="2.00" fill="#1a1a1a"/>
<rect x="1307.40" y="221.10" width="2.40" height="2.00" fill="#1a1a1a"/>
<rect x="1317.57" y="221.10" width="2.40" height="2.00" fill="#1a1a1a"/>
<rect x="1327.73" y="221.10" width="2.40" height="2.00" fill="#1a1a1a"/>
<text x="570.63" y="252.00" font-family="Liberation Mono" font-size="15.9" font-weight="normal" fill="#2a22a8" textLength="81.31" lengthAdjust="spacingAndGlyphs">OOOOO64O</text>
<text x="672.03" y="252.00" font-family="Liberation Mono" font-size="15.9" font-weight="normal" fill="#000" textLength="20.33" lengthAdjust="spacingAndGlyphs" stroke="#000" stroke-width="0.3">FF</text>
<text x="702.52" y="252.00" font-family="Liberation Mono" font-size="15.9" font-weight="normal" fill="#8a6d6d" textLength="20.33" lengthAdjust="spacingAndGlyphs" stroke="#8a6d6d" stroke-width="0.3">FF</text>
<text x="733.01" y="252.00" font-family="Liberation Mono" font-size="15.9" font-weight="normal" fill="#000" textLength="20.33" lengthAdjust="spacingAndGlyphs" stroke="#000" stroke-width="0.3">FF</text>
<text x="763.50" y="252.00" font-family="Liberation Mono" font-size="15.9" font-weight="normal" fill="#8a6d6d" textLength="20.33" lengthAdjust="spacingAndGlyphs" stroke="#8a6d6d" stroke-width="0.3">FF</text>
<text x="793.99" y="252.00" font-family="Liberation Mono" font-size="15.9" font-weight="normal" fill="#000" textLength="20.33" lengthAdjust="spacingAndGlyphs" stroke="#000" stroke-width="0.3">FF</text>
<text x="824.48" y="252.00" font-family="Liberation Mono" font-size="15.9" font-weight="normal" fill="#8a6d6d" textLength="20.33" lengthAdjust="spacingAndGlyphs" stroke="#8a6d6d" stroke-width="0.3">FF</text>
<text x="1037.91" y="252.00" font-family="Liberation Mono" font-size="15.9" font-weight="normal" fill="#000" textLength="20.33" lengthAdjust="spacingAndGlyphs">O2</text>
<text x="1068.40" y="252.00" font-family="Liberation Mono" font-size="15.9" font-weight="normal" fill="#8a6d6d" textLength="20.33" lengthAdjust="spacingAndGlyphs">OO</text>
<text x="1098.89" y="252.00" font-family="Liberation Mono" font-size="15.9" font-weight="normal" fill="#000" textLength="20.33" lengthAdjust="spacingAndGlyphs">OO</text>
<text x="1129.38" y="252.00" font-family="Liberation Mono" font-size="15.9" font-weight="normal" fill="#8a6d6d" textLength="20.33" lengthAdjust="spacingAndGlyphs">OO</text>
<rect x="1175.28" y="241.50" width="2.40" height="2.00" fill="#1a1a1a"/>
<rect x="1185.45" y="241.50" width="2.40" height="2.00" fill="#1a1a1a"/>
<rect x="1195.61" y="241.50" width="2.40" height="2.00" fill="#1a1a1a"/>
<rect x="1205.77" y="241.50" width="2.40" height="2.00" fill="#1a1a1a"/>
<rect x="1215.94" y="241.50" width="2.40" height="2.00" fill="#1a1a1a"/>
<rect x="1226.10" y="241.50" width="2.40" height="2.00" fill="#1a1a1a"/>
<text x="1232.38" y="252.00" font-family="Liberation Mono" font-size="15.9" font-weight="normal" fill="#000" textLength="10.16" lengthAdjust="spacingAndGlyphs">Ą</text>
<rect x="1246.43" y="249.80" width="2.40" height="2.00" fill="#1a1a1a"/>
<text x="1252.71" y="252.00" font-family="Liberation Mono" font-size="15.9" font-weight="normal" fill="#000" textLength="10.16" lengthAdjust="spacingAndGlyphs">@</text>
<text x="1262.87" y="252.00" font-family="Liberation Mono" font-size="15.9" font-weight="normal" fill="#000" textLength="10.16" lengthAdjust="spacingAndGlyphs">j</text>
<rect x="1276.91" y="249.80" width="2.40" height="2.00" fill="#1a1a1a"/>
<text x="1283.20" y="252.00" font-family="Liberation Mono" font-size="15.9" font-weight="normal" fill="#000" textLength="10.16" lengthAdjust="spacingAndGlyphs">&amp;</text>
<rect x="1297.24" y="249.80" width="2.40" height="2.00" fill="#1a1a1a"/>
<rect x="1307.40" y="249.80" width="2.40" height="2.00" fill="#1a1a1a"/>
<rect x="1317.57" y="249.80" width="2.40" height="2.00" fill="#1a1a1a"/>
<rect x="1327.73" y="249.80" width="2.40" height="2.00" fill="#1a1a1a"/>
<text x="570.63" y="272.40" font-family="Liberation Mono" font-size="15.9" font-weight="normal" fill="#2a22a8" textLength="81.31" lengthAdjust="spacingAndGlyphs">OOOOO65O</text>
<text x="672.03" y="272.40" font-family="Liberation Mono" font-size="15.9" font-weight="normal" fill="#000" textLength="20.33" lengthAdjust="spacingAndGlyphs">OO</text>
<text x="702.52" y="272.40" font-family="Liberation Mono" font-size="15.9" font-weight="normal" fill="#8a6d6d" textLength="20.33" lengthAdjust="spacingAndGlyphs">OO</text>
<text x="733.01" y="272.40" font-family="Liberation Mono" font-size="15.9" font-weight="normal" fill="#000" textLength="20.33" lengthAdjust="spacingAndGlyphs">68</text>
<text x="763.50" y="272.40" font-family="Liberation Mono" font-size="15.9" font-weight="normal" fill="#8a6d6d" textLength="20.33" lengthAdjust="spacingAndGlyphs">O1</text>
<text x="793.99" y="272.40" font-family="Liberation Mono" font-size="15.9" font-weight="normal" fill="#000" textLength="20.33" lengthAdjust="spacingAndGlyphs" stroke="#000" stroke-width="0.12">A5</text>
<text x="824.48" y="272.40" font-family="Liberation Mono" font-size="15.9" font-weight="normal" fill="#8a6d6d" textLength="20.33" lengthAdjust="spacingAndGlyphs">19</text>
<text x="854.97" y="272.40" font-family="Liberation Mono" font-size="15.9" font-weight="normal" fill="#000" textLength="20.33" lengthAdjust="spacingAndGlyphs">4O</text>
<text x="885.46" y="272.40" font-family="Liberation Mono" font-size="15.9" font-weight="normal" fill="#8a6d6d" textLength="20.33" lengthAdjust="spacingAndGlyphs" stroke="#8a6d6d" stroke-width="0.12">6A</text>
<text x="915.95" y="272.40" font-family="Liberation Mono" font-size="15.9" font-weight="normal" fill="#000" textLength="20.33" lengthAdjust="spacingAndGlyphs">O6</text>
<text x="946.44" y="272.40" font-family="Liberation Mono" font-size="15.9" font-weight="normal" fill="#8a6d6d" textLength="20.33" lengthAdjust="spacingAndGlyphs">26</text>
<text x="976.93" y="272.40" font-family="Liberation Mono" font-size="15.9" font-weight="normal" fill="#000" textLength="20.33" lengthAdjust="spacingAndGlyphs" stroke="#000" stroke-width="0.12">6A</text>
<text x="1007.42" y="272.40" font-family="Liberation Mono" font-size="15.9" font-weight="normal" fill="#8a6d6d" textLength="20.33" lengthAdjust="spacingAndGlyphs">O1</text>
<text x="1037.91" y="272.40" font-family="Liberation Mono" font-size="15.9" font-weight="normal" fill="#000" textLength="20.33" lengthAdjust="spacingAndGlyphs">O1</text>
<text x="1068.40" y="272.40" font-family="Liberation Mono" font-size="15.9" font-weight="normal" fill="#8a6d6d" textLength="20.33" lengthAdjust="spacingAndGlyphs">O1</text>
<text x="1098.89" y="272.40" font-family="Liberation Mono" font-size="15.9" font-weight="normal" fill="#000" textLength="20.33" lengthAdjust="spacingAndGlyphs">54</text>
<text x="1129.38" y="272.40" font-family="Liberation Mono" font-size="15.9" font-weight="normal" fill="#8a6d6d" textLength="20.33" lengthAdjust="spacingAndGlyphs" stroke="#8a6d6d" stroke-width="0.12">A9</text>
<rect x="1175.28" y="270.20" width="2.40" height="2.00" fill="#1a1a1a"/>
<rect x="1185.45" y="270.20" width="2.40" height="2.00" fill="#1a1a1a"/>
<text x="1191.73" y="272.40" font-family="Liberation Mono" font-size="15.9" font-weight="normal" fill="#000" textLength="10.16" lengthAdjust="spacingAndGlyphs">h</text>
<rect x="1205.77" y="270.20" width="2.40" height="2.00" fill="#1a1a1a"/>
<text x="1212.05" y="272.40" font-family="Liberation Mono" font-size="15.9" font-weight="normal" fill="#000" textLength="10.16" lengthAdjust="spacingAndGlyphs">Ą</text>
<rect x="1226.10" y="270.20" width="2.40" height="2.00" fill="#1a1a1a"/>
<text x="1232.38" y="272.40" font-family="Liberation Mono" font-size="15.9" font-weight="normal" fill="#000" textLength="10.16" lengthAdjust="spacingAndGlyphs">@</text>
<text x="1242.54" y="272.40" font-family="Liberation Mono" font-size="15.9" font-weight="normal" fill="#000" textLength="10.16" lengthAdjust="spacingAndGlyphs">j</text>
<rect x="1256.59" y="270.20" width="2.40" height="2.00" fill="#1a1a1a"/>
<text x="1262.87" y="272.40" font-family="Liberation Mono" font-size="15.9" font-weight="normal" fill="#000" textLength="10.16" lengthAdjust="spacingAndGlyphs">&amp;</text>
<text x="1273.03" y="272.40" font-family="Liberation Mono" font-size="15.9" font-weight="normal" fill="#000" textLength="10.16" lengthAdjust="spacingAndGlyphs">j</text>
<rect x="1287.08" y="270.20" width="2.40" height="2.00" fill="#1a1a1a"/>
<rect x="1297.24" y="270.20" width="2.40" height="2.00" fill="#1a1a1a"/>
<rect x="1307.40" y="270.20" width="2.40" height="2.00" fill="#1a1a1a"/>
<text x="1313.69" y="272.40" font-family="Liberation Mono" font-size="15.9" font-weight="normal" fill="#000" textLength="10.16" lengthAdjust="spacingAndGlyphs">T</text>
<text x="1323.85" y="272.40" font-family="Liberation Mono" font-size="15.9" font-weight="normal" fill="#000" textLength="10.16" lengthAdjust="spacingAndGlyphs">©</text>
<rect x="850.30" y="233.60" width="185.10" height="21.70" fill="none" stroke="#0822dc" stroke-width="4"/>
<text x="854.80" y="251.00" font-family="Liberation Sans" font-size="14.6" font-weight="bold" fill="#0822dc">A5</text>
<text x="888.70" y="251.00" font-family="Liberation Sans" font-size="14.6" font-weight="bold" fill="#0822dc">19</text>
<text x="917.20" y="251.00" font-family="Liberation Sans" font-size="14.6" font-weight="bold" fill="#0822dc">40</text>
<text x="949.80" y="251.00" font-family="Liberation Sans" font-size="14.6" font-weight="bold" fill="#0822dc">6A</text>
<text x="981.00" y="251.00" font-family="Liberation Sans" font-size="14.6" font-weight="bold" fill="#0822dc">06</text>
<text x="1010.10" y="251.00" font-family="Liberation Sans" font-size="14.6" font-weight="bold" fill="#0822dc">26</text>
<text x="746.40" y="30.80" font-family="Liberation Sans" font-size="23.6" font-weight="bold" fill="#000" textLength="42.60" lengthAdjust="spacingAndGlyphs">ECU</text>
<text x="795.20" y="30.80" font-family="Liberation Sans" font-size="23.6" font-weight="bold" fill="#000" textLength="71.40" lengthAdjust="spacingAndGlyphs">528RQ</text>
<text x="873.20" y="30.80" font-family="Liberation Sans" font-size="23.6" font-weight="bold" fill="#000" textLength="56.20" lengthAdjust="spacingAndGlyphs">(read</text>
<text x="935.00" y="30.80" font-family="Liberation Sans" font-size="23.6" font-weight="bold" fill="#000" textLength="23.00" lengthAdjust="spacingAndGlyphs">as</text>
<text x="963.60" y="30.80" font-family="Liberation Sans" font-size="23.6" font-weight="bold" fill="#000" textLength="74.20" lengthAdjust="spacingAndGlyphs">95320)</text>
<text x="1043.60" y="30.80" font-family="Liberation Sans" font-size="23.6" font-weight="bold" fill="#000" textLength="91.20" lengthAdjust="spacingAndGlyphs">memory</text>
<text x="563.01" y="347.80" font-family="Liberation Mono" font-size="16.2" font-weight="normal" fill="#2a22a8" textLength="93.09" lengthAdjust="spacingAndGlyphs">Offset(h)</text>
<text x="670.61" y="347.80" font-family="Liberation Mono" font-size="16.2" font-weight="normal" fill="#2a22a8" textLength="20.69" lengthAdjust="spacingAndGlyphs">OO</text>
<text x="701.64" y="347.80" font-family="Liberation Mono" font-size="16.2" font-weight="normal" fill="#2a22a8" textLength="20.69" lengthAdjust="spacingAndGlyphs">O1</text>
<text x="732.67" y="347.80" font-family="Liberation Mono" font-size="16.2" font-weight="normal" fill="#2a22a8" textLength="20.69" lengthAdjust="spacingAndGlyphs">O2</text>
<text x="763.70" y="347.80" font-family="Liberation Mono" font-size="16.2" font-weight="normal" fill="#2a22a8" textLength="20.69" lengthAdjust="spacingAndGlyphs">O3</text>
<text x="794.73" y="347.80" font-family="Liberation Mono" font-size="16.2" font-weight="normal" fill="#2a22a8" textLength="20.69" lengthAdjust="spacingAndGlyphs">O4</text>
<text x="825.76" y="347.80" font-family="Liberation Mono" font-size="16.2" font-weight="normal" fill="#2a22a8" textLength="20.69" lengthAdjust="spacingAndGlyphs">O5</text>
<text x="856.79" y="347.80" font-family="Liberation Mono" font-size="16.2" font-weight="normal" fill="#2a22a8" textLength="20.69" lengthAdjust="spacingAndGlyphs">O6</text>
<text x="887.82" y="347.80" font-family="Liberation Mono" font-size="16.2" font-weight="normal" fill="#2a22a8" textLength="20.69" lengthAdjust="spacingAndGlyphs">O7</text>
<text x="918.85" y="347.80" font-family="Liberation Mono" font-size="16.2" font-weight="normal" fill="#2a22a8" textLength="20.69" lengthAdjust="spacingAndGlyphs">O8</text>
<text x="949.88" y="347.80" font-family="Liberation Mono" font-size="16.2" font-weight="normal" fill="#2a22a8" textLength="20.69" lengthAdjust="spacingAndGlyphs">O9</text>
<text x="980.91" y="347.80" font-family="Liberation Mono" font-size="16.2" font-weight="normal" fill="#2a22a8" textLength="20.69" lengthAdjust="spacingAndGlyphs">OA</text>
<text x="1011.94" y="347.80" font-family="Liberation Mono" font-size="16.2" font-weight="normal" fill="#2a22a8" textLength="20.69" lengthAdjust="spacingAndGlyphs">OB</text>
<text x="1042.97" y="347.80" font-family="Liberation Mono" font-size="16.2" font-weight="normal" fill="#2a22a8" textLength="20.69" lengthAdjust="spacingAndGlyphs">OC</text>
<text x="1074.00" y="347.80" font-family="Liberation Mono" font-size="16.2" font-weight="normal" fill="#2a22a8" textLength="20.69" lengthAdjust="spacingAndGlyphs">OD</text>
<text x="1105.03" y="347.80" font-family="Liberation Mono" font-size="16.2" font-weight="normal" fill="#2a22a8" textLength="20.69" lengthAdjust="spacingAndGlyphs">OE</text>
<text x="1136.06" y="347.80" font-family="Liberation Mono" font-size="16.2" font-weight="normal" fill="#2a22a8" textLength="20.69" lengthAdjust="spacingAndGlyphs">OF</text>
<text x="1177.91" y="347.80" font-family="Liberation Mono" font-size="16.2" font-weight="normal" fill="#2a22a8" textLength="175.84" lengthAdjust="spacingAndGlyphs">Tekst zdekodowany</text>
<text x="566.21" y="375.80" font-family="Liberation Mono" font-size="16.2" font-weight="normal" fill="#2a22a8" textLength="82.75" lengthAdjust="spacingAndGlyphs">OOOOOOOO</text>
<text x="670.61" y="375.80" font-family="Liberation Mono" font-size="16.2" font-weight="normal" fill="#000" textLength="20.69" lengthAdjust="spacingAndGlyphs">O6</text>
<text x="887.82" y="375.80" font-family="Liberation Mono" font-size="16.2" font-weight="normal" fill="#8a6d6d" textLength="20.69" lengthAdjust="spacingAndGlyphs" stroke="#8a6d6d" stroke-width="0.3">FF</text>
<text x="918.85" y="375.80" font-family="Liberation Mono" font-size="16.2" font-weight="normal" fill="#000" textLength="20.69" lengthAdjust="spacingAndGlyphs" stroke="#000" stroke-width="0.3">FF</text>
<text x="949.88" y="375.80" font-family="Liberation Mono" font-size="16.2" font-weight="normal" fill="#8a6d6d" textLength="20.69" lengthAdjust="spacingAndGlyphs" stroke="#8a6d6d" stroke-width="0.3">FF</text>
<text x="980.91" y="375.80" font-family="Liberation Mono" font-size="16.2" font-weight="normal" fill="#000" textLength="20.69" lengthAdjust="spacingAndGlyphs" stroke="#000" stroke-width="0.3">FF</text>
<text x="1011.94" y="375.80" font-family="Liberation Mono" font-size="16.2" font-weight="normal" fill="#8a6d6d" textLength="20.69" lengthAdjust="spacingAndGlyphs" stroke="#8a6d6d" stroke-width="0.3">FF</text>
<text x="1042.97" y="375.80" font-family="Liberation Mono" font-size="16.2" font-weight="normal" fill="#000" textLength="20.69" lengthAdjust="spacingAndGlyphs" stroke="#000" stroke-width="0.3">FF</text>
<text x="1074.00" y="375.80" font-family="Liberation Mono" font-size="16.2" font-weight="normal" fill="#8a6d6d" textLength="20.69" lengthAdjust="spacingAndGlyphs" stroke="#8a6d6d" stroke-width="0.3">FF</text>
<text x="1105.03" y="375.80" font-family="Liberation Mono" font-size="16.2" font-weight="normal" fill="#000" textLength="20.69" lengthAdjust="spacingAndGlyphs" stroke="#000" stroke-width="0.3">FF</text>
<text x="1136.06" y="375.80" font-family="Liberation Mono" font-size="16.2" font-weight="normal" fill="#8a6d6d" textLength="20.69" lengthAdjust="spacingAndGlyphs" stroke="#8a6d6d" stroke-width="0.3">FF</text>
<rect x="1182.97" y="373.60" width="2.40" height="2.00" fill="#1a1a1a"/>
<text x="1189.34" y="375.80" font-family="Liberation Mono" font-size="16.2" font-weight="normal" fill="#000" textLength="10.34" lengthAdjust="spacingAndGlyphs">&amp;</text>
<rect x="1203.66" y="373.60" width="2.40" height="2.00" fill="#1a1a1a"/>
<text x="1210.03" y="375.80" font-family="Liberation Mono" font-size="16.2" font-weight="normal" fill="#000" textLength="10.34" lengthAdjust="spacingAndGlyphs">j</text>
<text x="1220.37" y="375.80" font-family="Liberation Mono" font-size="16.2" font-weight="normal" fill="#000" textLength="10.34" lengthAdjust="spacingAndGlyphs">@</text>
<rect x="1234.69" y="373.60" width="2.40" height="2.00" fill="#1a1a1a"/>
<text x="1241.06" y="375.80" font-family="Liberation Mono" font-size="16.2" font-weight="normal" fill="#000" textLength="10.34" lengthAdjust="spacingAndGlyphs">Ą</text>
<rect x="1255.38" y="365.30" width="2.40" height="2.00" fill="#1a1a1a"/>
<rect x="1265.72" y="365.30" width="2.40" height="2.00" fill="#1a1a1a"/>
<rect x="1276.06" y="365.30" width="2.40" height="2.00" fill="#1a1a1a"/>
<rect x="1286.40" y="365.30" width="2.40" height="2.00" fill="#1a1a1a"/>
<rect x="1296.75" y="365.30" width="2.40" height="2.00" fill="#1a1a1a"/>
<rect x="1307.09" y="365.30" width="2.40" height="2.00" fill="#1a1a1a"/>
<rect x="1317.43" y="365.30" width="2.40" height="2.00" fill="#1a1a1a"/>
<rect x="1327.78" y="365.30" width="2.40" height="2.00" fill="#1a1a1a"/>
<rect x="1338.12" y="365.30" width="2.40" height="2.00" fill="#1a1a1a"/>
<text x="566.21" y="404.20" font-family="Liberation Mono" font-size="16.2" font-weight="normal" fill="#2a22a8" textLength="82.75" lengthAdjust="spacingAndGlyphs">OOOOOO1O</text>
<text x="670.61" y="404.20" font-family="Liberation Mono" font-size="16.2" font-weight="normal" fill="#000" textLength="20.69" lengthAdjust="spacingAndGlyphs" stroke="#000" stroke-width="0.3">FF</text>
<text x="701.64" y="404.20" font-family="Liberation Mono" font-size="16.2" font-weight="normal" fill="#8a6d6d" textLength="20.69" lengthAdjust="spacingAndGlyphs" stroke="#8a6d6d" stroke-width="0.3">FF</text>
<text x="732.67" y="404.20" font-family="Liberation Mono" font-size="16.2" font-weight="normal" fill="#000" textLength="20.69" lengthAdjust="spacingAndGlyphs" stroke="#000" stroke-width="0.3">FF</text>
<text x="763.70" y="404.20" font-family="Liberation Mono" font-size="16.2" font-weight="normal" fill="#8a6d6d" textLength="20.69" lengthAdjust="spacingAndGlyphs" stroke="#8a6d6d" stroke-width="0.3">FF</text>
<text x="794.73" y="404.20" font-family="Liberation Mono" font-size="16.2" font-weight="normal" fill="#000" textLength="20.69" lengthAdjust="spacingAndGlyphs" stroke="#000" stroke-width="0.3">FF</text>
<text x="825.76" y="404.20" font-family="Liberation Mono" font-size="16.2" font-weight="normal" fill="#8a6d6d" textLength="20.69" lengthAdjust="spacingAndGlyphs" stroke="#8a6d6d" stroke-width="0.3">FF</text>
<text x="856.79" y="404.20" font-family="Liberation Mono" font-size="16.2" font-weight="normal" fill="#000" textLength="20.69" lengthAdjust="spacingAndGlyphs" stroke="#000" stroke-width="0.3">FF</text>
<text x="887.82" y="404.20" font-family="Liberation Mono" font-size="16.2" font-weight="normal" fill="#8a6d6d" textLength="20.69" lengthAdjust="spacingAndGlyphs" stroke="#8a6d6d" stroke-width="0.3">FF</text>
<text x="918.85" y="404.20" font-family="Liberation Mono" font-size="16.2" font-weight="normal" fill="#000" textLength="20.69" lengthAdjust="spacingAndGlyphs" stroke="#000" stroke-width="0.3">FF</text>
<text x="949.88" y="404.20" font-family="Liberation Mono" font-size="16.2" font-weight="normal" fill="#8a6d6d" textLength="20.69" lengthAdjust="spacingAndGlyphs" stroke="#8a6d6d" stroke-width="0.3">FF</text>
<text x="980.91" y="404.20" font-family="Liberation Mono" font-size="16.2" font-weight="normal" fill="#000" textLength="20.69" lengthAdjust="spacingAndGlyphs" stroke="#000" stroke-width="0.3">FF</text>
<text x="1011.94" y="404.20" font-family="Liberation Mono" font-size="16.2" font-weight="normal" fill="#8a6d6d" textLength="20.69" lengthAdjust="spacingAndGlyphs" stroke="#8a6d6d" stroke-width="0.3">FF</text>
<text x="1042.97" y="404.20" font-family="Liberation Mono" font-size="16.2" font-weight="normal" fill="#000" textLength="20.69" lengthAdjust="spacingAndGlyphs" stroke="#000" stroke-width="0.3">FF</text>
<text x="1074.00" y="404.20" font-family="Liberation Mono" font-size="16.2" font-weight="normal" fill="#8a6d6d" textLength="20.69" lengthAdjust="spacingAndGlyphs" stroke="#8a6d6d" stroke-width="0.3">FF</text>
<text x="1105.03" y="404.20" font-family="Liberation Mono" font-size="16.2" font-weight="normal" fill="#000" textLength="20.69" lengthAdjust="spacingAndGlyphs" stroke="#000" stroke-width="0.3">FF</text>
<text x="1136.06" y="404.20" font-family="Liberation Mono" font-size="16.2" font-weight="normal" fill="#8a6d6d" textLength="20.69" lengthAdjust="spacingAndGlyphs" stroke="#8a6d6d" stroke-width="0.3">FF</text>
<rect x="1182.97" y="393.70" width="2.40" height="2.00" fill="#1a1a1a"/>
<rect x="1193.31" y="393.70" width="2.40" height="2.00" fill="#1a1a1a"/>
<rect x="1203.66" y="393.70" width="2.40" height="2.00" fill="#1a1a1a"/>
<rect x="1214.00" y="393.70" width="2.40" height="2.00" fill="#1a1a1a"/>
<rect x="1224.35" y="393.70" width="2.40" height="2.00" fill="#1a1a1a"/>
<rect x="1234.69" y="393.70" width="2.40" height="2.00" fill="#1a1a1a"/>
<rect x="1245.03" y="393.70" width="2.40" height="2.00" fill="#1a1a1a"/>
<rect x="1255.38" y="393.70" width="2.40" height="2.00" fill="#1a1a1a"/>
<rect x="1265.72" y="393.70" width="2.40" height="2.00" fill="#1a1a1a"/>
<rect x="1276.06" y="393.70" width="2.40" height="2.00" fill="#1a1a1a"/>
<rect x="1286.40" y="393.70" width="2.40" height="2.00" fill="#1a1a1a"/>
<rect x="1296.75" y="393.70" width="2.40" height="2.00" fill="#1a1a1a"/>
<rect x="1307.09" y="393.70" width="2.40" height="2.00" fill="#1a1a1a"/>
<rect x="1317.43" y="393.70" width="2.40" height="2.00" fill="#1a1a1a"/>
<rect x="1327.78" y="393.70" width="2.40" height="2.00" fill="#1a1a1a"/>
<rect x="1338.12" y="393.70" width="2.40" height="2.00" fill="#1a1a1a"/>
<text x="566.21" y="424.50" font-family="Liberation Mono" font-size="16.2" font-weight="normal" fill="#2a22a8" textLength="82.75" lengthAdjust="spacingAndGlyphs">OOOOOO2O</text>
<text x="670.61" y="424.50" font-family="Liberation Mono" font-size="16.2" font-weight="normal" fill="#000" textLength="20.69" lengthAdjust="spacingAndGlyphs" stroke="#000" stroke-width="0.3">FF</text>
<text x="701.64" y="424.50" font-family="Liberation Mono" font-size="16.2" font-weight="normal" fill="#8a6d6d" textLength="20.69" lengthAdjust="spacingAndGlyphs" stroke="#8a6d6d" stroke-width="0.3">FF</text>
<text x="732.67" y="424.50" font-family="Liberation Mono" font-size="16.2" font-weight="normal" fill="#000" textLength="20.69" lengthAdjust="spacingAndGlyphs" stroke="#000" stroke-width="0.3">FF</text>
<text x="763.70" y="424.50" font-family="Liberation Mono" font-size="16.2" font-weight="normal" fill="#8a6d6d" textLength="20.69" lengthAdjust="spacingAndGlyphs" stroke="#8a6d6d" stroke-width="0.3">FF</text>
<text x="794.73" y="424.50" font-family="Liberation Mono" font-size="16.2" font-weight="normal" fill="#000" textLength="20.69" lengthAdjust="spacingAndGlyphs" stroke="#000" stroke-width="0.3">FF</text>
<text x="825.76" y="424.50" font-family="Liberation Mono" font-size="16.2" font-weight="normal" fill="#8a6d6d" textLength="20.69" lengthAdjust="spacingAndGlyphs" stroke="#8a6d6d" stroke-width="0.3">FF</text>
<text x="856.79" y="424.50" font-family="Liberation Mono" font-size="16.2" font-weight="normal" fill="#000" textLength="20.69" lengthAdjust="spacingAndGlyphs" stroke="#000" stroke-width="0.3">FF</text>
<text x="887.82" y="424.50" font-family="Liberation Mono" font-size="16.2" font-weight="normal" fill="#8a6d6d" textLength="20.69" lengthAdjust="spacingAndGlyphs" stroke="#8a6d6d" stroke-width="0.3">FF</text>
<text x="918.85" y="424.50" font-family="Liberation Mono" font-size="16.2" font-weight="normal" fill="#000" textLength="20.69" lengthAdjust="spacingAndGlyphs" stroke="#000" stroke-width="0.3">FF</text>
<text x="949.88" y="424.50" font-family="Liberation Mono" font-size="16.2" font-weight="normal" fill="#8a6d6d" textLength="20.69" lengthAdjust="spacingAndGlyphs" stroke="#8a6d6d" stroke-width="0.3">FF</text>
<text x="980.91" y="424.50" font-family="Liberation Mono" font-size="16.2" font-weight="normal" fill="#000" textLength="20.69" lengthAdjust="spacingAndGlyphs" stroke="#000" stroke-width="0.3">FF</text>
<text x="1011.94" y="424.50" font-family="Liberation Mono" font-size="16.2" font-weight="normal" fill="#8a6d6d" textLength="20.69" lengthAdjust="spacingAndGlyphs" stroke="#8a6d6d" stroke-width="0.3">FF</text>
<text x="1042.97" y="424.50" font-family="Liberation Mono" font-size="16.2" font-weight="normal" fill="#000" textLength="20.69" lengthAdjust="spacingAndGlyphs" stroke="#000" stroke-width="0.3">FF</text>
<text x="1074.00" y="424.50" font-family="Liberation Mono" font-size="16.2" font-weight="normal" fill="#8a6d6d" textLength="20.69" lengthAdjust="spacingAndGlyphs" stroke="#8a6d6d" stroke-width="0.3">FF</text>
<text x="1105.03" y="424.50" font-family="Liberation Mono" font-size="16.2" font-weight="normal" fill="#000" textLength="20.69" lengthAdjust="spacingAndGlyphs" stroke="#000" stroke-width="0.3">FF</text>
<text x="1136.06" y="424.50" font-family="Liberation Mono" font-size="16.2" font-weight="normal" fill="#8a6d6d" textLength="20.69" lengthAdjust="spacingAndGlyphs" stroke="#8a6d6d" stroke-width="0.3">FF</text>
<rect x="1182.97" y="414.00" width="2.40" height="2.00" fill="#1a1a1a"/>
<rect x="1193.31" y="414.00" width="2.40" height="2.00" fill="#1a1a1a"/>
<rect x="1203.66" y="414.00" width="2.40" height="2.00" fill="#1a1a1a"/>
<rect x="1214.00" y="414.00" width="2.40" height="2.00" fill="#1a1a1a"/>
<rect x="1224.35" y="414.00" width="2.40" height="2.00" fill="#1a1a1a"/>
<rect x="1234.69" y="414.00" width="2.40" height="2.00" fill="#1a1a1a"/>
<rect x="1245.03" y="414.00" width="2.40" height="2.00" fill="#1a1a1a"/>
<rect x="1255.38" y="414.00" width="2.40" height="2.00" fill="#1a1a1a"/>
<rect x="1265.72" y="414.00" width="2.40" height="2.00" fill="#1a1a1a"/>
<rect x="1276.06" y="414.00" width="2.40" height="2.00" fill="#1a1a1a"/>
<rect x="1286.40" y="414.00" width="2.40" height="2.00" fill="#1a1a1a"/>
<rect x="1296.75" y="414.00" width="2.40" height="2.00" fill="#1a1a1a"/>
<rect x="1307.09" y="414.00" width="2.40" height="2.00" fill="#1a1a1a"/>
<rect x="1317.43" y="414.00" width="2.40" height="2.00" fill="#1a1a1a"/>
<rect x="1327.78" y="414.00" width="2.40" height="2.00" fill="#1a1a1a"/>
<rect x="1338.12" y="414.00" width="2.40" height="2.00" fill="#1a1a1a"/>
<text x="566.21" y="445.30" font-family="Liberation Mono" font-size="16.2" font-weight="normal" fill="#2a22a8" textLength="82.75" lengthAdjust="spacingAndGlyphs">OOOOOO3O</text>
<text x="670.61" y="445.30" font-family="Liberation Mono" font-size="16.2" font-weight="normal" fill="#000" textLength="20.69" lengthAdjust="spacingAndGlyphs" stroke="#000" stroke-width="0.3">FF</text>
<text x="701.64" y="445.30" font-family="Liberation Mono" font-size="16.2" font-weight="normal" fill="#8a6d6d" textLength="20.69" lengthAdjust="spacingAndGlyphs" stroke="#8a6d6d" stroke-width="0.3">FF</text>
<text x="732.67" y="445.30" font-family="Liberation Mono" font-size="16.2" font-weight="normal" fill="#000" textLength="20.69" lengthAdjust="spacingAndGlyphs" stroke="#000" stroke-width="0.3">FF</text>
<text x="763.70" y="445.30" font-family="Liberation Mono" font-size="16.2" font-weight="normal" fill="#8a6d6d" textLength="20.69" lengthAdjust="spacingAndGlyphs" stroke="#8a6d6d" stroke-width="0.3">FF</text>
<text x="794.73" y="445.30" font-family="Liberation Mono" font-size="16.2" font-weight="normal" fill="#000" textLength="20.69" lengthAdjust="spacingAndGlyphs" stroke="#000" stroke-width="0.3">FF</text>
<text x="825.76" y="445.30" font-family="Liberation Mono" font-size="16.2" font-weight="normal" fill="#8a6d6d" textLength="20.69" lengthAdjust="spacingAndGlyphs" stroke="#8a6d6d" stroke-width="0.3">FF</text>
<text x="856.79" y="445.30" font-family="Liberation Mono" font-size="16.2" font-weight="normal" fill="#000" textLength="20.69" lengthAdjust="spacingAndGlyphs" stroke="#000" stroke-width="0.3">FF</text>
<text x="887.82" y="445.30" font-family="Liberation Mono" font-size="16.2" font-weight="normal" fill="#8a6d6d" textLength="20.69" lengthAdjust="spacingAndGlyphs" stroke="#8a6d6d" stroke-width="0.3">FF</text>
<text x="918.85" y="445.30" font-family="Liberation Mono" font-size="16.2" font-weight="normal" fill="#000" textLength="20.69" lengthAdjust="spacingAndGlyphs" stroke="#000" stroke-width="0.3">FF</text>
<text x="949.88" y="445.30" font-family="Liberation Mono" font-size="16.2" font-weight="normal" fill="#8a6d6d" textLength="20.69" lengthAdjust="spacingAndGlyphs" stroke="#8a6d6d" stroke-width="0.3">FF</text>
<text x="980.91" y="445.30" font-family="Liberation Mono" font-size="16.2" font-weight="normal" fill="#000" textLength="20.69" lengthAdjust="spacingAndGlyphs" stroke="#000" stroke-width="0.3">FF</text>
<text x="1011.94" y="445.30" font-family="Liberation Mono" font-size="16.2" font-weight="normal" fill="#8a6d6d" textLength="20.69" lengthAdjust="spacingAndGlyphs" stroke="#8a6d6d" stroke-width="0.3">FF</text>
<text x="1042.97" y="445.30" font-family="Liberation Mono" font-size="16.2" font-weight="normal" fill="#000" textLength="20.69" lengthAdjust="spacingAndGlyphs" stroke="#000" stroke-width="0.3">FF</text>
<text x="1074.00" y="445.30" font-family="Liberation Mono" font-size="16.2" font-weight="normal" fill="#8a6d6d" textLength="20.69" lengthAdjust="spacingAndGlyphs" stroke="#8a6d6d" stroke-width="0.3">FF</text>
<text x="1105.03" y="445.30" font-family="Liberation Mono" font-size="16.2" font-weight="normal" fill="#000" textLength="20.69" lengthAdjust="spacingAndGlyphs" stroke="#000" stroke-width="0.3">FF</text>
<text x="1136.06" y="445.30" font-family="Liberation Mono" font-size="16.2" font-weight="normal" fill="#8a6d6d" textLength="20.69" lengthAdjust="spacingAndGlyphs" stroke="#8a6d6d" stroke-width="0.3">FF</text>
<rect x="1182.97" y="434.80" width="2.40" height="2.00" fill="#1a1a1a"/>
<rect x="1193.31" y="434.80" width="2.40" height="2.00" fill="#1a1a1a"/>
<rect x="1203.66" y="434.80" width="2.40" height="2.00" fill="#1a1a1a"/>
<rect x="1214.00" y="434.80" width="2.40" height="2.00" fill="#1a1a1a"/>
<rect x="1224.35" y="434.80" width="2.40" height="2.00" fill="#1a1a1a"/>
<rect x="1234.69" y="434.80" width="2.40" height="2.00" fill="#1a1a1a"/>
<rect x="1245.03" y="434.80" width="2.40" height="2.00" fill="#1a1a1a"/>
<rect x="1255.38" y="434.80" width="2.40" height="2.00" fill="#1a1a1a"/>
<rect x="1265.72" y="434.80" width="2.40" height="2.00" fill="#1a1a1a"/>
<rect x="1276.06" y="434.80" width="2.40" height="2.00" fill="#1a1a1a"/>
<rect x="1286.40" y="434.80" width="2.40" height="2.00" fill="#1a1a1a"/>
<rect x="1296.75" y="434.80" width="2.40" height="2.00" fill="#1a1a1a"/>
<rect x="1307.09" y="434.80" width="2.40" height="2.00" fill="#1a1a1a"/>
<rect x="1317.43" y="434.80" width="2.40" height="2.00" fill="#1a1a1a"/>
<rect x="1327.78" y="434.80" width="2.40" height="2.00" fill="#1a1a1a"/>
<rect x="1338.12" y="434.80" width="2.40" height="2.00" fill="#1a1a1a"/>
<text x="797.80" y="315.60" font-family="Liberation Sans" font-size="22.5" font-weight="bold" fill="#000" textLength="99.20" lengthAdjust="spacingAndGlyphs">Emulator</text>
<text x="903.80" y="315.60" font-family="Liberation Sans" font-size="22.5" font-weight="bold" fill="#000" textLength="63.20" lengthAdjust="spacingAndGlyphs">24c16</text>
<text x="972.80" y="315.60" font-family="Liberation Sans" font-size="22.5" font-weight="bold" fill="#000" textLength="91.00" lengthAdjust="spacingAndGlyphs">memory</text>
<rect x="699.50" y="360.10" width="183.00" height="25.50" fill="none" stroke="#f20000" stroke-width="4.4"/>
<text x="705.10" y="377.80" font-family="Liberation Sans" font-size="15.2" font-weight="bold" fill="#f20000">26</text>
<text x="735.00" y="377.80" font-family="Liberation Sans" font-size="15.2" font-weight="bold" fill="#f20000">06</text>
<text x="764.50" y="377.80" font-family="Liberation Sans" font-size="15.2" font-weight="bold" fill="#f20000">6A</text>
<text x="794.90" y="377.80" font-family="Liberation Sans" font-size="15.2" font-weight="bold" fill="#f20000">40</text>
<text x="824.80" y="377.80" font-family="Liberation Sans" font-size="15.2" font-weight="bold" fill="#f20000">19</text>
<text x="853.70" y="377.80" font-family="Liberation Sans" font-size="15.2" font-weight="bold" fill="#f20000">A5</text>
<rect x="666.10" y="355.00" width="29.10" height="31.10" fill="none" stroke="#0dbf32" stroke-width="4.2"/>
<rect x="664.00" y="352.90" width="224.60" height="4.20" fill="#0dbf32"/>
<rect x="884.30" y="352.90" width="4.30" height="256.20" fill="#0dbf32"/>
<rect x="425.50" y="605.00" width="463.10" height="4.10" fill="#0dbf32"/>
<polygon points="437.00,600.60 447.50,607.05 437.00,613.60" fill="#0dbf32"/>
<rect x="392.00" y="577.20" width="31.50" height="29.90" fill="none" stroke="#0dbf32" stroke-width="4"/>
<rect x="697.30" y="387.80" width="4.00" height="24.20" fill="#f20000"/>
<rect x="218.90" y="408.00" width="482.40" height="4.00" fill="#f20000"/>
<polygon points="425.40,403.50 435.50,410.00 425.40,416.50" fill="#f20000"/>
<rect x="386.50" y="353.20" width="4.20" height="18.40" fill="#f20000"/>
<rect x="227.90" y="367.20" width="162.80" height="4.40" fill="#f20000"/>
<rect x="227.90" y="367.20" width="4.50" height="9.80" fill="#f20000"/>
<polygon points="223.00,375.90 236.00,375.90 229.60,386.60" fill="#f20000"/>
<rect x="412.70" y="254.50" width="435.60" height="3.70" fill="#0822dc"/>
<polygon points="431.30,249.60 421.30,256.35 431.30,263.00" fill="#0822dc"/>
<rect x="219.00" y="226.40" width="191.70" height="29.70" fill="none" stroke="#0822dc" stroke-width="4"/>
<text x="199.40" y="135.80" font-family="Liberation Sans" font-size="22" font-weight="bold" fill="#000" textLength="18.00" lengthAdjust="spacingAndGlyphs">1.</text>
<text x="220.20" y="135.80" font-family="Liberation Sans" font-size="22" font-weight="normal" fill="#000" textLength="19.40" lengthAdjust="spacingAndGlyphs">In</text>
<text x="245.40" y="135.80" font-family="Liberation Sans" font-size="22" font-weight="normal" fill="#000" textLength="65.00" lengthAdjust="spacingAndGlyphs">528RQ</text>
<text x="315.60" y="135.80" font-family="Liberation Sans" font-size="22" font-weight="normal" fill="#000" textLength="48.60" lengthAdjust="spacingAndGlyphs">(read</text>
<text x="370.60" y="135.80" font-family="Liberation Sans" font-size="22" font-weight="normal" fill="#000" textLength="19.80" lengthAdjust="spacingAndGlyphs">as</text>
<text x="396.40" y="135.80" font-family="Liberation Sans" font-size="22" font-weight="normal" fill="#000" textLength="65.80" lengthAdjust="spacingAndGlyphs">95320)</text>
<text x="467.20" y="135.80" font-family="Liberation Sans" font-size="22" font-weight="normal" fill="#000" textLength="76.80" lengthAdjust="spacingAndGlyphs">eeprom</text>
<text x="221.80" y="163.80" font-family="Liberation Sans" font-size="22" font-weight="normal" fill="#000" textLength="40.20" lengthAdjust="spacingAndGlyphs">ECU</text>
<text x="267.20" y="163.80" font-family="Liberation Sans" font-size="22" font-weight="normal" fill="#000" textLength="82.00" lengthAdjust="spacingAndGlyphs">memory</text>
<text x="355.60" y="163.80" font-family="Liberation Sans" font-size="22" font-weight="normal" fill="#000" textLength="37.60" lengthAdjust="spacingAndGlyphs">find</text>
<text x="398.80" y="163.80" font-family="Liberation Sans" font-size="22" font-weight="normal" fill="#000" textLength="37.00" lengthAdjust="spacingAndGlyphs">and</text>
<text x="440.80" y="163.80" font-family="Liberation Sans" font-size="22" font-weight="normal" fill="#000" textLength="47.20" lengthAdjust="spacingAndGlyphs">copy</text>
<text x="223.00" y="191.10" font-family="Liberation Sans" font-size="22" font-weight="normal" fill="#000" textLength="61.20" lengthAdjust="spacingAndGlyphs">values</text>
<text x="289.60" y="191.10" font-family="Liberation Sans" font-size="22" font-weight="normal" fill="#000" textLength="46.60" lengthAdjust="spacingAndGlyphs">from</text>
<text x="340.60" y="191.10" font-family="Liberation Sans" font-size="22" font-weight="normal" fill="#000" textLength="62.00" lengthAdjust="spacingAndGlyphs">adress</text>
<text x="221.20" y="218.90" font-family="Liberation Sans" font-size="22" font-weight="bold" fill="#0822dc" textLength="63.60" lengthAdjust="spacingAndGlyphs">0x646</text>
<text x="290.00" y="218.90" font-family="Liberation Sans" font-size="22" font-weight="bold" fill="#0822dc" textLength="6.80" lengthAdjust="spacingAndGlyphs">-</text>
<text x="302.00" y="218.90" font-family="Liberation Sans" font-size="22" font-weight="bold" fill="#0822dc" textLength="64.80" lengthAdjust="spacingAndGlyphs">0x64B</text>
<text x="221.20" y="247.20" font-family="Liberation Sans" font-size="22" font-weight="bold" fill="#0822dc" textLength="28.40" lengthAdjust="spacingAndGlyphs">A5</text>
<text x="254.20" y="247.20" font-family="Liberation Sans" font-size="22" font-weight="bold" fill="#0822dc" textLength="26.40" lengthAdjust="spacingAndGlyphs">19</text>
<text x="285.00" y="247.20" font-family="Liberation Sans" font-size="22" font-weight="bold" fill="#0822dc" textLength="26.80" lengthAdjust="spacingAndGlyphs">40</text>
<text x="315.60" y="247.20" font-family="Liberation Sans" font-size="22" font-weight="bold" fill="#0822dc" textLength="27.60" lengthAdjust="spacingAndGlyphs">6A</text>
<text x="348.40" y="247.20" font-family="Liberation Sans" font-size="22" font-weight="bold" fill="#0822dc" textLength="25.00" lengthAdjust="spacingAndGlyphs">06</text>
<text x="378.20" y="247.20" font-family="Liberation Sans" font-size="22" font-weight="bold" fill="#0822dc" textLength="27.20" lengthAdjust="spacingAndGlyphs">26</text>
<text x="203.20" y="320.90" font-family="Liberation Sans" font-size="22" font-weight="bold" fill="#000" textLength="18.80" lengthAdjust="spacingAndGlyphs">2.</text>
<text x="226.60" y="320.90" font-family="Liberation Sans" font-size="22" font-weight="normal" fill="#000" textLength="75.00" lengthAdjust="spacingAndGlyphs">Reverse</text>
<text x="307.60" y="320.90" font-family="Liberation Sans" font-size="22" font-weight="normal" fill="#000" textLength="65.20" lengthAdjust="spacingAndGlyphs">copied</text>
<text x="379.80" y="320.90" font-family="Liberation Sans" font-size="22" font-weight="normal" fill="#000" textLength="60.80" lengthAdjust="spacingAndGlyphs">values</text>
<text x="222.40" y="348.80" font-family="Liberation Sans" font-size="22" font-weight="bold" fill="#0822dc" textLength="27.40" lengthAdjust="spacingAndGlyphs">A5</text>
<text x="255.80" y="348.80" font-family="Liberation Sans" font-size="22" font-weight="bold" fill="#0822dc" textLength="26.40" lengthAdjust="spacingAndGlyphs">19</text>
<text x="286.60" y="348.80" font-family="Liberation Sans" font-size="22" font-weight="bold" fill="#0822dc" textLength="26.60" lengthAdjust="spacingAndGlyphs">40</text>
<text x="316.20" y="348.80" font-family="Liberation Sans" font-size="22" font-weight="bold" fill="#0822dc" textLength="28.60" lengthAdjust="spacingAndGlyphs">6A</text>
<text x="349.00" y="348.80" font-family="Liberation Sans" font-size="22" font-weight="bold" fill="#0822dc" textLength="28.00" lengthAdjust="spacingAndGlyphs">06</text>
<text x="381.60" y="348.80" font-family="Liberation Sans" font-size="22" font-weight="bold" fill="#0822dc" textLength="24.60" lengthAdjust="spacingAndGlyphs">26</text>
<text x="222.40" y="404.60" font-family="Liberation Sans" font-size="22" font-weight="bold" fill="#f20000" textLength="25.20" lengthAdjust="spacingAndGlyphs">26</text>
<text x="252.20" y="404.60" font-family="Liberation Sans" font-size="22" font-weight="bold" fill="#f20000" textLength="26.20" lengthAdjust="spacingAndGlyphs">06</text>
<text x="282.40" y="404.60" font-family="Liberation Sans" font-size="22" font-weight="bold" fill="#f20000" textLength="27.40" lengthAdjust="spacingAndGlyphs">6A</text>
<text x="316.40" y="404.60" font-family="Liberation Sans" font-size="22" font-weight="bold" fill="#f20000" textLength="25.20" lengthAdjust="spacingAndGlyphs">40</text>
<text x="348.40" y="404.60" font-family="Liberation Sans" font-size="22" font-weight="bold" fill="#f20000" textLength="24.60" lengthAdjust="spacingAndGlyphs">19</text>
<text x="377.00" y="404.60" font-family="Liberation Sans" font-size="22" font-weight="bold" fill="#f20000" textLength="27.40" lengthAdjust="spacingAndGlyphs">A5</text>
<text x="222.00" y="438.80" font-family="Liberation Sans" font-size="22" font-weight="normal" fill="#000" textLength="50.40" lengthAdjust="spacingAndGlyphs">Write</text>
<text x="277.00" y="438.80" font-family="Liberation Sans" font-size="22" font-weight="normal" fill="#000" textLength="85.00" lengthAdjust="spacingAndGlyphs">reversed</text>
<text x="368.00" y="438.80" font-family="Liberation Sans" font-size="22" font-weight="normal" fill="#000" textLength="59.40" lengthAdjust="spacingAndGlyphs">values</text>
<text x="221.40" y="467.10" font-family="Liberation Sans" font-size="22" font-weight="normal" fill="#000" textLength="17.40" lengthAdjust="spacingAndGlyphs">in</text>
<text x="245.00" y="467.10" font-family="Liberation Sans" font-size="22" font-weight="normal" fill="#000" textLength="88.00" lengthAdjust="spacingAndGlyphs">emulator</text>
<text x="339.00" y="467.10" font-family="Liberation Sans" font-size="22" font-weight="normal" fill="#000" textLength="58.20" lengthAdjust="spacingAndGlyphs">24c16</text>
<text x="401.80" y="467.10" font-family="Liberation Sans" font-size="22" font-weight="normal" fill="#000" textLength="81.80" lengthAdjust="spacingAndGlyphs">memory</text>
<text x="222.40" y="494.50" font-family="Liberation Sans" font-size="22" font-weight="normal" fill="#000" textLength="19.20" lengthAdjust="spacingAndGlyphs">to</text>
<text x="247.20" y="494.50" font-family="Liberation Sans" font-size="22" font-weight="normal" fill="#000" textLength="61.40" lengthAdjust="spacingAndGlyphs">adress</text>
<text x="313.20" y="494.50" font-family="Liberation Sans" font-size="22" font-weight="bold" fill="#f20000" textLength="59.80" lengthAdjust="spacingAndGlyphs">0x01-</text>
<text x="378.00" y="494.50" font-family="Liberation Sans" font-size="22" font-weight="bold" fill="#f20000" textLength="51.00" lengthAdjust="spacingAndGlyphs">0x06</text>
<text x="200.80" y="544.20" font-family="Liberation Sans" font-size="22" font-weight="bold" fill="#000" textLength="18.60" lengthAdjust="spacingAndGlyphs">4.</text>
<text x="223.20" y="544.20" font-family="Liberation Sans" font-size="22" font-weight="normal" fill="#000" textLength="19.00" lengthAdjust="spacingAndGlyphs">In</text>
<text x="247.40" y="544.20" font-family="Liberation Sans" font-size="22" font-weight="normal" fill="#000" textLength="58.00" lengthAdjust="spacingAndGlyphs">24c16</text>
<text x="311.60" y="544.20" font-family="Liberation Sans" font-size="22" font-weight="normal" fill="#000" textLength="75.40" lengthAdjust="spacingAndGlyphs">eeprom</text>
<text x="393.40" y="544.20" font-family="Liberation Sans" font-size="22" font-weight="normal" fill="#000" textLength="87.80" lengthAdjust="spacingAndGlyphs">emulator</text>
<text x="225.00" y="572.10" font-family="Liberation Sans" font-size="22" font-weight="normal" fill="#000" textLength="81.20" lengthAdjust="spacingAndGlyphs">memory</text>
<text x="312.40" y="572.10" font-family="Liberation Sans" font-size="22" font-weight="normal" fill="#000" textLength="18.80" lengthAdjust="spacingAndGlyphs">in</text>
<text x="337.00" y="572.10" font-family="Liberation Sans" font-size="22" font-weight="normal" fill="#000" textLength="60.00" lengthAdjust="spacingAndGlyphs">adress</text>
<text x="402.80" y="572.10" font-family="Liberation Sans" font-size="22" font-weight="bold" fill="#0dbf32" textLength="51.40" lengthAdjust="spacingAndGlyphs">0x00</text>
<text x="225.00" y="600.00" font-family="Liberation Sans" font-size="22" font-weight="normal" fill="#000" textLength="72.40" lengthAdjust="spacingAndGlyphs">change</text>
<text x="304.20" y="600.00" font-family="Liberation Sans" font-size="22" font-weight="normal" fill="#000" textLength="60.40" lengthAdjust="spacingAndGlyphs">values</text>
<text x="370.20" y="600.00" font-family="Liberation Sans" font-size="22" font-weight="normal" fill="#000" textLength="17.60" lengthAdjust="spacingAndGlyphs">to</text>
<text x="394.60" y="600.30" font-family="Liberation Sans" font-size="22" font-weight="bold" fill="#0dbf32" textLength="25.40" lengthAdjust="spacingAndGlyphs">06</text>
</svg>
</body></html>
